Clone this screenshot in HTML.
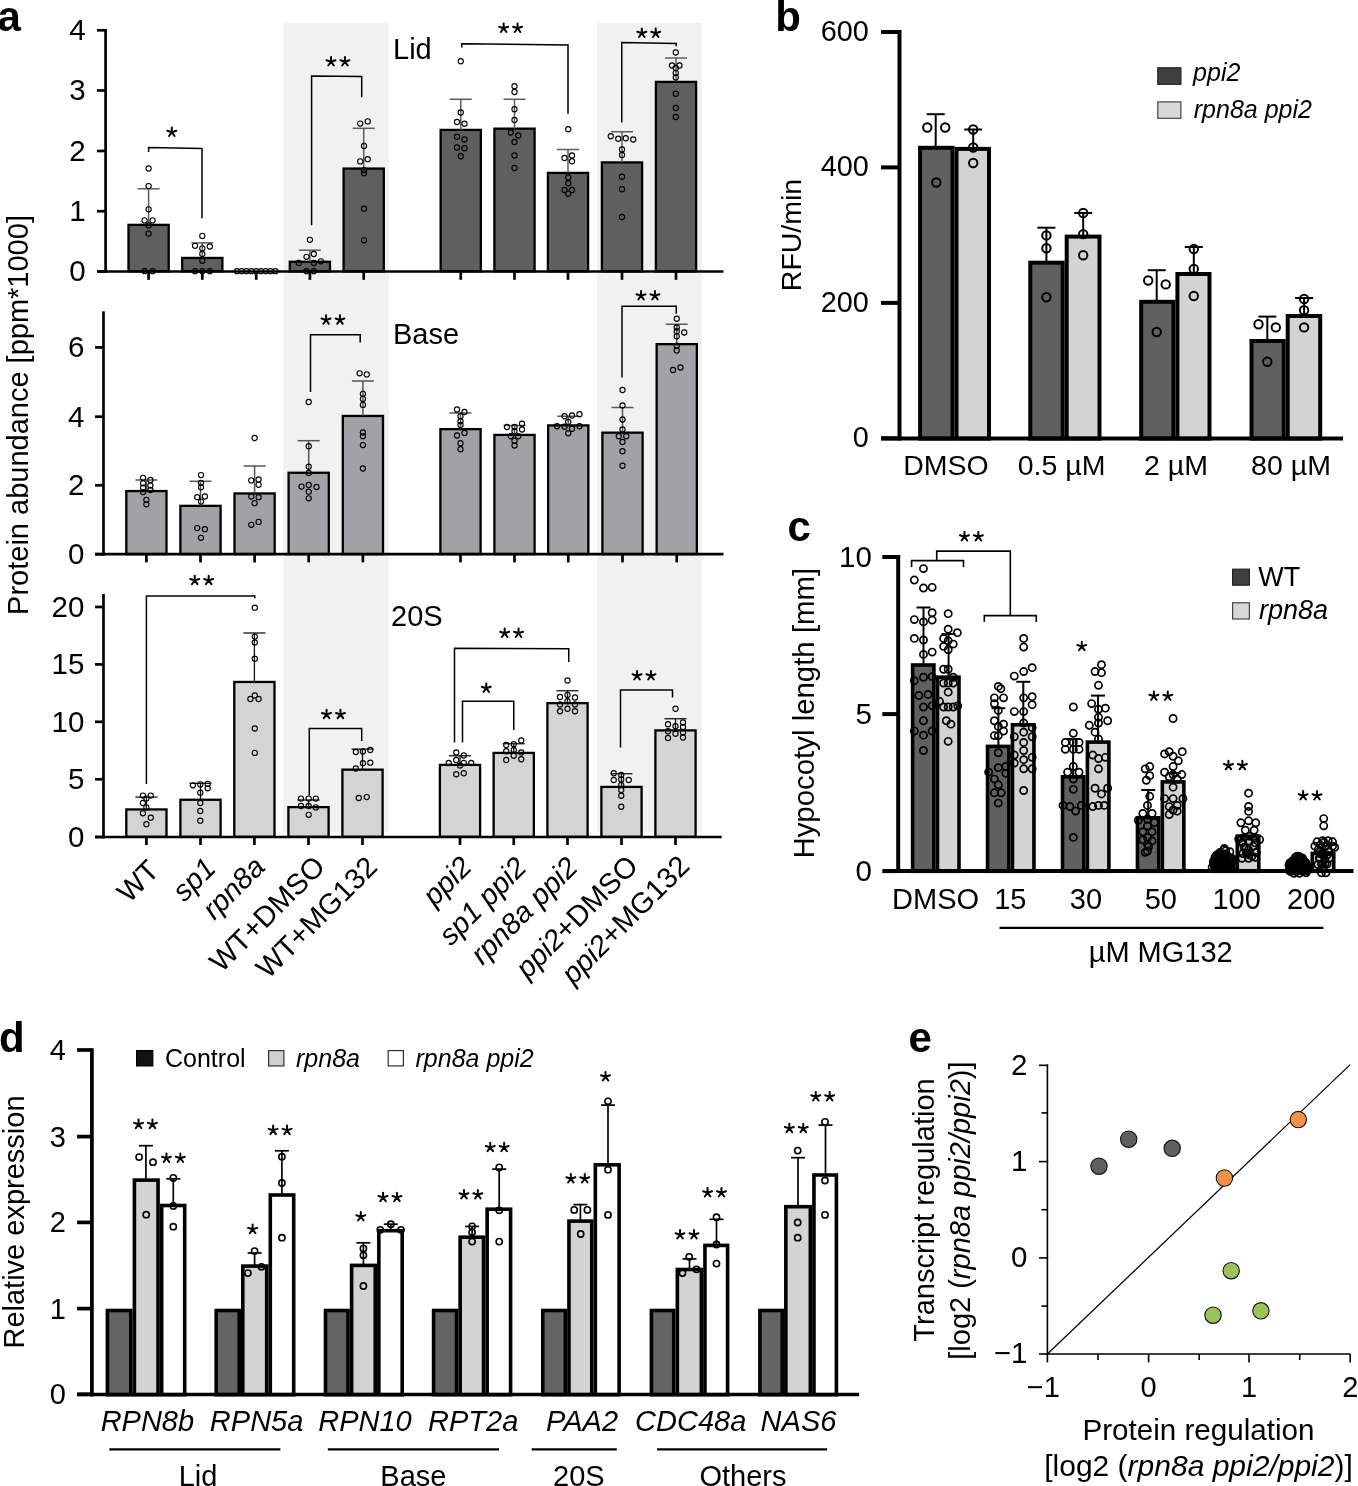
<!DOCTYPE html>
<html><head><meta charset="utf-8"><title>Figure</title>
<style>html,body{margin:0;padding:0;background:#fff;overflow:hidden}svg{display:block;will-change:transform}text{font-family:"Liberation Sans",sans-serif}</style>
</head><body>
<svg width="1358" height="1486" viewBox="0 0 1358 1486" font-family='"Liberation Sans", sans-serif'>
<rect x="0" y="0" width="1358" height="1486" fill="#fff"/>
<rect x="283.3" y="22.8" width="105.5" height="809" fill="#f1f1f1"/>
<rect x="597" y="22.8" width="105" height="809" fill="#f1f1f1"/>
<rect x="128.5" y="224.85" width="40.2" height="46.5" fill="#5f5f5f" stroke="#000" stroke-width="2.3"/>
<rect x="182.2" y="257.95" width="40.2" height="13.4" fill="#5f5f5f" stroke="#000" stroke-width="2.3"/>
<rect x="289.8" y="261.75" width="40.2" height="9.6" fill="#5f5f5f" stroke="#000" stroke-width="2.3"/>
<rect x="343.6" y="168.55" width="40.2" height="102.8" fill="#5f5f5f" stroke="#000" stroke-width="2.3"/>
<rect x="440.65" y="129.9" width="40.2" height="141.45" fill="#5f5f5f" stroke="#000" stroke-width="2.3"/>
<rect x="494.4" y="128.65" width="40.2" height="142.7" fill="#5f5f5f" stroke="#000" stroke-width="2.3"/>
<rect x="547.9" y="172.9" width="40.2" height="98.45" fill="#5f5f5f" stroke="#000" stroke-width="2.3"/>
<rect x="601.9" y="162.4" width="40.2" height="108.95" fill="#5f5f5f" stroke="#000" stroke-width="2.3"/>
<rect x="655.9" y="81.9" width="40.2" height="189.45" fill="#5f5f5f" stroke="#000" stroke-width="2.3"/>
<line x1="148.6" y1="224.7" x2="148.6" y2="188.8" stroke="#5c5c5c" stroke-width="1.5" stroke-linecap="butt"/>
<line x1="137.6" y1="188.8" x2="159.6" y2="188.8" stroke="#5c5c5c" stroke-width="1.5" stroke-linecap="butt"/>
<line x1="202.3" y1="257.8" x2="202.3" y2="242.9" stroke="#5c5c5c" stroke-width="1.5" stroke-linecap="butt"/>
<line x1="191.3" y1="242.9" x2="213.3" y2="242.9" stroke="#5c5c5c" stroke-width="1.5" stroke-linecap="butt"/>
<line x1="309.9" y1="261.6" x2="309.9" y2="250.2" stroke="#5c5c5c" stroke-width="1.5" stroke-linecap="butt"/>
<line x1="298.9" y1="250.2" x2="320.9" y2="250.2" stroke="#5c5c5c" stroke-width="1.5" stroke-linecap="butt"/>
<line x1="363.7" y1="168.4" x2="363.7" y2="128.3" stroke="#5c5c5c" stroke-width="1.5" stroke-linecap="butt"/>
<line x1="352.7" y1="128.3" x2="374.7" y2="128.3" stroke="#5c5c5c" stroke-width="1.5" stroke-linecap="butt"/>
<line x1="460.75" y1="129.75" x2="460.75" y2="99.25" stroke="#5c5c5c" stroke-width="1.5" stroke-linecap="butt"/>
<line x1="449.75" y1="99.25" x2="471.75" y2="99.25" stroke="#5c5c5c" stroke-width="1.5" stroke-linecap="butt"/>
<line x1="514.5" y1="128.5" x2="514.5" y2="99.25" stroke="#5c5c5c" stroke-width="1.5" stroke-linecap="butt"/>
<line x1="503.5" y1="99.25" x2="525.5" y2="99.25" stroke="#5c5c5c" stroke-width="1.5" stroke-linecap="butt"/>
<line x1="568" y1="172.75" x2="568" y2="149.5" stroke="#5c5c5c" stroke-width="1.5" stroke-linecap="butt"/>
<line x1="557" y1="149.5" x2="579" y2="149.5" stroke="#5c5c5c" stroke-width="1.5" stroke-linecap="butt"/>
<line x1="622" y1="162.25" x2="622" y2="131.75" stroke="#5c5c5c" stroke-width="1.5" stroke-linecap="butt"/>
<line x1="611" y1="131.75" x2="633" y2="131.75" stroke="#5c5c5c" stroke-width="1.5" stroke-linecap="butt"/>
<line x1="676" y1="81.75" x2="676" y2="58" stroke="#5c5c5c" stroke-width="1.5" stroke-linecap="butt"/>
<line x1="665" y1="58" x2="687" y2="58" stroke="#5c5c5c" stroke-width="1.5" stroke-linecap="butt"/>
<circle cx="148.6" cy="168.5" r="2.6" stroke="#000" stroke-width="1.1" fill="none"/>
<circle cx="148.6" cy="186.1" r="2.6" stroke="#000" stroke-width="1.1" fill="none"/>
<circle cx="148.6" cy="209.3" r="2.6" stroke="#000" stroke-width="1.1" fill="none"/>
<circle cx="144.6" cy="220.4" r="2.6" stroke="#000" stroke-width="1.1" fill="none"/>
<circle cx="152.6" cy="220.4" r="2.6" stroke="#000" stroke-width="1.1" fill="none"/>
<circle cx="148.6" cy="225.5" r="2.6" stroke="#000" stroke-width="1.1" fill="none"/>
<circle cx="148.6" cy="233.6" r="2.6" stroke="#000" stroke-width="1.1" fill="none"/>
<circle cx="144.6" cy="271.2" r="2.6" stroke="#000" stroke-width="1.1" fill="none"/>
<circle cx="152.6" cy="271.2" r="2.6" stroke="#000" stroke-width="1.1" fill="none"/>
<circle cx="202.3" cy="235.9" r="2.6" stroke="#000" stroke-width="1.1" fill="none"/>
<circle cx="195" cy="245.8" r="2.6" stroke="#000" stroke-width="1.1" fill="none"/>
<circle cx="209.8" cy="246.5" r="2.6" stroke="#000" stroke-width="1.1" fill="none"/>
<circle cx="202.3" cy="248.4" r="2.6" stroke="#000" stroke-width="1.1" fill="none"/>
<circle cx="202.3" cy="254" r="2.6" stroke="#000" stroke-width="1.1" fill="none"/>
<circle cx="202.3" cy="260.8" r="2.6" stroke="#000" stroke-width="1.1" fill="none"/>
<circle cx="195" cy="271.2" r="2.6" stroke="#000" stroke-width="1.1" fill="none"/>
<circle cx="202.3" cy="271.2" r="2.6" stroke="#000" stroke-width="1.1" fill="none"/>
<circle cx="209.8" cy="271.2" r="2.6" stroke="#000" stroke-width="1.1" fill="none"/>
<circle cx="237" cy="271.2" r="2.6" stroke="#000" stroke-width="1.1" fill="none"/>
<circle cx="241.8" cy="271.2" r="2.6" stroke="#000" stroke-width="1.1" fill="none"/>
<circle cx="246.6" cy="271.2" r="2.6" stroke="#000" stroke-width="1.1" fill="none"/>
<circle cx="251.4" cy="271.2" r="2.6" stroke="#000" stroke-width="1.1" fill="none"/>
<circle cx="256.2" cy="271.2" r="2.6" stroke="#000" stroke-width="1.1" fill="none"/>
<circle cx="261" cy="271.2" r="2.6" stroke="#000" stroke-width="1.1" fill="none"/>
<circle cx="265.8" cy="271.2" r="2.6" stroke="#000" stroke-width="1.1" fill="none"/>
<circle cx="270.6" cy="271.2" r="2.6" stroke="#000" stroke-width="1.1" fill="none"/>
<circle cx="275.4" cy="271.2" r="2.6" stroke="#000" stroke-width="1.1" fill="none"/>
<circle cx="309.9" cy="239.8" r="2.6" stroke="#000" stroke-width="1.1" fill="none"/>
<circle cx="306.5" cy="256.8" r="2.6" stroke="#000" stroke-width="1.1" fill="none"/>
<circle cx="313.8" cy="254" r="2.6" stroke="#000" stroke-width="1.1" fill="none"/>
<circle cx="298.8" cy="263" r="2.6" stroke="#000" stroke-width="1.1" fill="none"/>
<circle cx="313.8" cy="263" r="2.6" stroke="#000" stroke-width="1.1" fill="none"/>
<circle cx="320.9" cy="261.3" r="2.6" stroke="#000" stroke-width="1.1" fill="none"/>
<circle cx="306.5" cy="271.2" r="2.6" stroke="#000" stroke-width="1.1" fill="none"/>
<circle cx="313.8" cy="271.2" r="2.6" stroke="#000" stroke-width="1.1" fill="none"/>
<circle cx="360.2" cy="123.6" r="2.6" stroke="#000" stroke-width="1.1" fill="none"/>
<circle cx="367.7" cy="121.4" r="2.6" stroke="#000" stroke-width="1.1" fill="none"/>
<circle cx="364" cy="146" r="2.6" stroke="#000" stroke-width="1.1" fill="none"/>
<circle cx="360.2" cy="161.4" r="2.6" stroke="#000" stroke-width="1.1" fill="none"/>
<circle cx="367.7" cy="159.2" r="2.6" stroke="#000" stroke-width="1.1" fill="none"/>
<circle cx="364" cy="170.2" r="2.6" stroke="#000" stroke-width="1.1" fill="none"/>
<circle cx="364" cy="173.3" r="2.6" stroke="#000" stroke-width="1.1" fill="none"/>
<circle cx="364" cy="208.7" r="2.6" stroke="#000" stroke-width="1.1" fill="none"/>
<circle cx="364" cy="240.3" r="2.6" stroke="#000" stroke-width="1.1" fill="none"/>
<circle cx="460.75" cy="61.25" r="2.6" stroke="#000" stroke-width="1.1" fill="none"/>
<circle cx="460.75" cy="112.5" r="2.6" stroke="#000" stroke-width="1.1" fill="none"/>
<circle cx="457" cy="122" r="2.6" stroke="#000" stroke-width="1.1" fill="none"/>
<circle cx="464.5" cy="123.75" r="2.6" stroke="#000" stroke-width="1.1" fill="none"/>
<circle cx="457" cy="136.75" r="2.6" stroke="#000" stroke-width="1.1" fill="none"/>
<circle cx="464.5" cy="139.5" r="2.6" stroke="#000" stroke-width="1.1" fill="none"/>
<circle cx="457" cy="147.5" r="2.6" stroke="#000" stroke-width="1.1" fill="none"/>
<circle cx="464.5" cy="148.25" r="2.6" stroke="#000" stroke-width="1.1" fill="none"/>
<circle cx="460.75" cy="156.25" r="2.6" stroke="#000" stroke-width="1.1" fill="none"/>
<circle cx="514.5" cy="86.25" r="2.6" stroke="#000" stroke-width="1.1" fill="none"/>
<circle cx="514.5" cy="92" r="2.6" stroke="#000" stroke-width="1.1" fill="none"/>
<circle cx="514.5" cy="109.25" r="2.6" stroke="#000" stroke-width="1.1" fill="none"/>
<circle cx="514.5" cy="120" r="2.6" stroke="#000" stroke-width="1.1" fill="none"/>
<circle cx="510.75" cy="132.5" r="2.6" stroke="#000" stroke-width="1.1" fill="none"/>
<circle cx="518.25" cy="135.5" r="2.6" stroke="#000" stroke-width="1.1" fill="none"/>
<circle cx="514.5" cy="142" r="2.6" stroke="#000" stroke-width="1.1" fill="none"/>
<circle cx="514.5" cy="155.5" r="2.6" stroke="#000" stroke-width="1.1" fill="none"/>
<circle cx="514.5" cy="168" r="2.6" stroke="#000" stroke-width="1.1" fill="none"/>
<circle cx="568.25" cy="129.25" r="2.6" stroke="#000" stroke-width="1.1" fill="none"/>
<circle cx="564.5" cy="158" r="2.6" stroke="#000" stroke-width="1.1" fill="none"/>
<circle cx="572" cy="155.5" r="2.6" stroke="#000" stroke-width="1.1" fill="none"/>
<circle cx="572" cy="161.25" r="2.6" stroke="#000" stroke-width="1.1" fill="none"/>
<circle cx="568.25" cy="177.5" r="2.6" stroke="#000" stroke-width="1.1" fill="none"/>
<circle cx="568.25" cy="183.25" r="2.6" stroke="#000" stroke-width="1.1" fill="none"/>
<circle cx="564.5" cy="190" r="2.6" stroke="#000" stroke-width="1.1" fill="none"/>
<circle cx="572" cy="190" r="2.6" stroke="#000" stroke-width="1.1" fill="none"/>
<circle cx="568.25" cy="193.75" r="2.6" stroke="#000" stroke-width="1.1" fill="none"/>
<circle cx="610.75" cy="136.25" r="2.6" stroke="#000" stroke-width="1.1" fill="none"/>
<circle cx="618.25" cy="138.75" r="2.6" stroke="#000" stroke-width="1.1" fill="none"/>
<circle cx="625.75" cy="138.25" r="2.6" stroke="#000" stroke-width="1.1" fill="none"/>
<circle cx="633.25" cy="139.5" r="2.6" stroke="#000" stroke-width="1.1" fill="none"/>
<circle cx="622" cy="149.5" r="2.6" stroke="#000" stroke-width="1.1" fill="none"/>
<circle cx="622" cy="155" r="2.6" stroke="#000" stroke-width="1.1" fill="none"/>
<circle cx="622" cy="176.75" r="2.6" stroke="#000" stroke-width="1.1" fill="none"/>
<circle cx="622" cy="189.25" r="2.6" stroke="#000" stroke-width="1.1" fill="none"/>
<circle cx="622" cy="217" r="2.6" stroke="#000" stroke-width="1.1" fill="none"/>
<circle cx="675.75" cy="52.5" r="2.6" stroke="#000" stroke-width="1.1" fill="none"/>
<circle cx="672" cy="65.5" r="2.6" stroke="#000" stroke-width="1.1" fill="none"/>
<circle cx="679.5" cy="65.5" r="2.6" stroke="#000" stroke-width="1.1" fill="none"/>
<circle cx="675.75" cy="68" r="2.6" stroke="#000" stroke-width="1.1" fill="none"/>
<circle cx="675.75" cy="73" r="2.6" stroke="#000" stroke-width="1.1" fill="none"/>
<circle cx="675.75" cy="77.5" r="2.6" stroke="#000" stroke-width="1.1" fill="none"/>
<circle cx="675.75" cy="93.75" r="2.6" stroke="#000" stroke-width="1.1" fill="none"/>
<circle cx="675.75" cy="108" r="2.6" stroke="#000" stroke-width="1.1" fill="none"/>
<circle cx="675.75" cy="117" r="2.6" stroke="#000" stroke-width="1.1" fill="none"/>
<line x1="105.6" y1="29" x2="105.6" y2="272.85" stroke="#000" stroke-width="2.7" stroke-linecap="butt"/>
<line x1="97" y1="30.3" x2="105.6" y2="30.3" stroke="#000" stroke-width="2.7" stroke-linecap="butt"/>
<text x="85.6" y="39.8" font-size="29.5" text-anchor="end">4</text>
<line x1="97" y1="90.5" x2="105.6" y2="90.5" stroke="#000" stroke-width="2.7" stroke-linecap="butt"/>
<text x="85.6" y="100" font-size="29.5" text-anchor="end">3</text>
<line x1="97" y1="151" x2="105.6" y2="151" stroke="#000" stroke-width="2.7" stroke-linecap="butt"/>
<text x="85.6" y="160.5" font-size="29.5" text-anchor="end">2</text>
<line x1="97" y1="211.2" x2="105.6" y2="211.2" stroke="#000" stroke-width="2.7" stroke-linecap="butt"/>
<text x="85.6" y="220.7" font-size="29.5" text-anchor="end">1</text>
<line x1="97" y1="271.5" x2="105.6" y2="271.5" stroke="#000" stroke-width="2.7" stroke-linecap="butt"/>
<text x="85.6" y="281" font-size="29.5" text-anchor="end">0</text>
<line x1="97" y1="271.5" x2="723.5" y2="271.5" stroke="#000" stroke-width="2.7" stroke-linecap="butt"/>
<line x1="148.6" y1="271.5" x2="148.6" y2="279.8" stroke="#000" stroke-width="2.7" stroke-linecap="butt"/>
<line x1="202.3" y1="271.5" x2="202.3" y2="279.8" stroke="#000" stroke-width="2.7" stroke-linecap="butt"/>
<line x1="256.2" y1="271.5" x2="256.2" y2="279.8" stroke="#000" stroke-width="2.7" stroke-linecap="butt"/>
<line x1="309.9" y1="271.5" x2="309.9" y2="279.8" stroke="#000" stroke-width="2.7" stroke-linecap="butt"/>
<line x1="363.7" y1="271.5" x2="363.7" y2="279.8" stroke="#000" stroke-width="2.7" stroke-linecap="butt"/>
<line x1="460.75" y1="271.5" x2="460.75" y2="279.8" stroke="#000" stroke-width="2.7" stroke-linecap="butt"/>
<line x1="514.5" y1="271.5" x2="514.5" y2="279.8" stroke="#000" stroke-width="2.7" stroke-linecap="butt"/>
<line x1="568" y1="271.5" x2="568" y2="279.8" stroke="#000" stroke-width="2.7" stroke-linecap="butt"/>
<line x1="622" y1="271.5" x2="622" y2="279.8" stroke="#000" stroke-width="2.7" stroke-linecap="butt"/>
<line x1="676" y1="271.5" x2="676" y2="279.8" stroke="#000" stroke-width="2.7" stroke-linecap="butt"/>
<rect x="126.3" y="491.05" width="40.2" height="63" fill="#a2a1a5" stroke="#000" stroke-width="2.3"/>
<rect x="180.4" y="505.85" width="40.2" height="48.2" fill="#a2a1a5" stroke="#000" stroke-width="2.3"/>
<rect x="234.5" y="493.45" width="40.2" height="60.6" fill="#a2a1a5" stroke="#000" stroke-width="2.3"/>
<rect x="288.6" y="472.75" width="40.2" height="81.3" fill="#a2a1a5" stroke="#000" stroke-width="2.3"/>
<rect x="342.8" y="415.95" width="40.2" height="138.1" fill="#a2a1a5" stroke="#000" stroke-width="2.3"/>
<rect x="440.4" y="429.15" width="40.2" height="124.9" fill="#a2a1a5" stroke="#000" stroke-width="2.3"/>
<rect x="494.4" y="434.9" width="40.2" height="119.15" fill="#a2a1a5" stroke="#000" stroke-width="2.3"/>
<rect x="548.15" y="425.4" width="40.2" height="128.65" fill="#a2a1a5" stroke="#000" stroke-width="2.3"/>
<rect x="602.4" y="432.65" width="40.2" height="121.4" fill="#a2a1a5" stroke="#000" stroke-width="2.3"/>
<rect x="656.65" y="344.15" width="40.2" height="209.9" fill="#a2a1a5" stroke="#000" stroke-width="2.3"/>
<line x1="146.4" y1="490.9" x2="146.4" y2="480" stroke="#555555" stroke-width="1.5" stroke-linecap="butt"/>
<line x1="135.4" y1="480" x2="157.4" y2="480" stroke="#555555" stroke-width="1.5" stroke-linecap="butt"/>
<line x1="200.5" y1="505.7" x2="200.5" y2="481.3" stroke="#555555" stroke-width="1.5" stroke-linecap="butt"/>
<line x1="189.5" y1="481.3" x2="211.5" y2="481.3" stroke="#555555" stroke-width="1.5" stroke-linecap="butt"/>
<line x1="254.6" y1="493.3" x2="254.6" y2="466" stroke="#555555" stroke-width="1.5" stroke-linecap="butt"/>
<line x1="243.6" y1="466" x2="265.6" y2="466" stroke="#555555" stroke-width="1.5" stroke-linecap="butt"/>
<line x1="308.7" y1="472.6" x2="308.7" y2="440.7" stroke="#555555" stroke-width="1.5" stroke-linecap="butt"/>
<line x1="297.7" y1="440.7" x2="319.7" y2="440.7" stroke="#555555" stroke-width="1.5" stroke-linecap="butt"/>
<line x1="362.9" y1="415.8" x2="362.9" y2="381" stroke="#555555" stroke-width="1.5" stroke-linecap="butt"/>
<line x1="351.9" y1="381" x2="373.9" y2="381" stroke="#555555" stroke-width="1.5" stroke-linecap="butt"/>
<line x1="460.5" y1="429" x2="460.5" y2="413" stroke="#555555" stroke-width="1.5" stroke-linecap="butt"/>
<line x1="449.5" y1="413" x2="471.5" y2="413" stroke="#555555" stroke-width="1.5" stroke-linecap="butt"/>
<line x1="514.5" y1="434.75" x2="514.5" y2="425.5" stroke="#555555" stroke-width="1.5" stroke-linecap="butt"/>
<line x1="503.5" y1="425.5" x2="525.5" y2="425.5" stroke="#555555" stroke-width="1.5" stroke-linecap="butt"/>
<line x1="568.25" y1="425.25" x2="568.25" y2="416.25" stroke="#555555" stroke-width="1.5" stroke-linecap="butt"/>
<line x1="557.25" y1="416.25" x2="579.25" y2="416.25" stroke="#555555" stroke-width="1.5" stroke-linecap="butt"/>
<line x1="622.5" y1="432.5" x2="622.5" y2="407.5" stroke="#555555" stroke-width="1.5" stroke-linecap="butt"/>
<line x1="611.5" y1="407.5" x2="633.5" y2="407.5" stroke="#555555" stroke-width="1.5" stroke-linecap="butt"/>
<line x1="676.75" y1="344" x2="676.75" y2="324.25" stroke="#555555" stroke-width="1.5" stroke-linecap="butt"/>
<line x1="665.75" y1="324.25" x2="687.75" y2="324.25" stroke="#555555" stroke-width="1.5" stroke-linecap="butt"/>
<circle cx="143.1" cy="477.8" r="2.6" stroke="#000" stroke-width="1.1" fill="none"/>
<circle cx="150.4" cy="480" r="2.6" stroke="#000" stroke-width="1.1" fill="none"/>
<circle cx="143.1" cy="483.3" r="2.6" stroke="#000" stroke-width="1.1" fill="none"/>
<circle cx="150.4" cy="485.5" r="2.6" stroke="#000" stroke-width="1.1" fill="none"/>
<circle cx="143.1" cy="487.7" r="2.6" stroke="#000" stroke-width="1.1" fill="none"/>
<circle cx="150.4" cy="490" r="2.6" stroke="#000" stroke-width="1.1" fill="none"/>
<circle cx="143.1" cy="492.1" r="2.6" stroke="#000" stroke-width="1.1" fill="none"/>
<circle cx="146.4" cy="499.9" r="2.6" stroke="#000" stroke-width="1.1" fill="none"/>
<circle cx="146.4" cy="504.3" r="2.6" stroke="#000" stroke-width="1.1" fill="none"/>
<circle cx="201" cy="475.1" r="2.6" stroke="#000" stroke-width="1.1" fill="none"/>
<circle cx="201" cy="482.8" r="2.6" stroke="#000" stroke-width="1.1" fill="none"/>
<circle cx="201" cy="487.3" r="2.6" stroke="#000" stroke-width="1.1" fill="none"/>
<circle cx="197.2" cy="497.2" r="2.6" stroke="#000" stroke-width="1.1" fill="none"/>
<circle cx="204.9" cy="496.5" r="2.6" stroke="#000" stroke-width="1.1" fill="none"/>
<circle cx="201" cy="501.6" r="2.6" stroke="#000" stroke-width="1.1" fill="none"/>
<circle cx="197.2" cy="528.1" r="2.6" stroke="#000" stroke-width="1.1" fill="none"/>
<circle cx="204.9" cy="529.2" r="2.6" stroke="#000" stroke-width="1.1" fill="none"/>
<circle cx="201" cy="537.8" r="2.6" stroke="#000" stroke-width="1.1" fill="none"/>
<circle cx="254.6" cy="438" r="2.6" stroke="#000" stroke-width="1.1" fill="none"/>
<circle cx="251.3" cy="480.4" r="2.6" stroke="#000" stroke-width="1.1" fill="none"/>
<circle cx="258.6" cy="479.5" r="2.6" stroke="#000" stroke-width="1.1" fill="none"/>
<circle cx="258.6" cy="484.8" r="2.6" stroke="#000" stroke-width="1.1" fill="none"/>
<circle cx="251.3" cy="496.5" r="2.6" stroke="#000" stroke-width="1.1" fill="none"/>
<circle cx="258.6" cy="497.2" r="2.6" stroke="#000" stroke-width="1.1" fill="none"/>
<circle cx="254.6" cy="503.2" r="2.6" stroke="#000" stroke-width="1.1" fill="none"/>
<circle cx="251.3" cy="524.8" r="2.6" stroke="#000" stroke-width="1.1" fill="none"/>
<circle cx="258.6" cy="521.9" r="2.6" stroke="#000" stroke-width="1.1" fill="none"/>
<circle cx="308.7" cy="402" r="2.6" stroke="#000" stroke-width="1.1" fill="none"/>
<circle cx="308.7" cy="446.2" r="2.6" stroke="#000" stroke-width="1.1" fill="none"/>
<circle cx="308.7" cy="466.7" r="2.6" stroke="#000" stroke-width="1.1" fill="none"/>
<circle cx="308.7" cy="472.9" r="2.6" stroke="#000" stroke-width="1.1" fill="none"/>
<circle cx="301.5" cy="486.6" r="2.6" stroke="#000" stroke-width="1.1" fill="none"/>
<circle cx="308.7" cy="485" r="2.6" stroke="#000" stroke-width="1.1" fill="none"/>
<circle cx="316.5" cy="487" r="2.6" stroke="#000" stroke-width="1.1" fill="none"/>
<circle cx="308.7" cy="491.7" r="2.6" stroke="#000" stroke-width="1.1" fill="none"/>
<circle cx="308.7" cy="498.3" r="2.6" stroke="#000" stroke-width="1.1" fill="none"/>
<circle cx="359.6" cy="373.3" r="2.6" stroke="#000" stroke-width="1.1" fill="none"/>
<circle cx="366.8" cy="374.4" r="2.6" stroke="#000" stroke-width="1.1" fill="none"/>
<circle cx="362.9" cy="393.8" r="2.6" stroke="#000" stroke-width="1.1" fill="none"/>
<circle cx="362.9" cy="398.9" r="2.6" stroke="#000" stroke-width="1.1" fill="none"/>
<circle cx="362.9" cy="404.9" r="2.6" stroke="#000" stroke-width="1.1" fill="none"/>
<circle cx="362.9" cy="432.5" r="2.6" stroke="#000" stroke-width="1.1" fill="none"/>
<circle cx="362.9" cy="436.2" r="2.6" stroke="#000" stroke-width="1.1" fill="none"/>
<circle cx="362.9" cy="445.1" r="2.6" stroke="#000" stroke-width="1.1" fill="none"/>
<circle cx="362.9" cy="468.5" r="2.6" stroke="#000" stroke-width="1.1" fill="none"/>
<circle cx="457" cy="409.5" r="2.6" stroke="#000" stroke-width="1.1" fill="none"/>
<circle cx="464.5" cy="412" r="2.6" stroke="#000" stroke-width="1.1" fill="none"/>
<circle cx="460.5" cy="416.25" r="2.6" stroke="#000" stroke-width="1.1" fill="none"/>
<circle cx="460.5" cy="421.25" r="2.6" stroke="#000" stroke-width="1.1" fill="none"/>
<circle cx="460.5" cy="425" r="2.6" stroke="#000" stroke-width="1.1" fill="none"/>
<circle cx="457" cy="435.5" r="2.6" stroke="#000" stroke-width="1.1" fill="none"/>
<circle cx="464.5" cy="433" r="2.6" stroke="#000" stroke-width="1.1" fill="none"/>
<circle cx="460.5" cy="443.25" r="2.6" stroke="#000" stroke-width="1.1" fill="none"/>
<circle cx="460.5" cy="449.25" r="2.6" stroke="#000" stroke-width="1.1" fill="none"/>
<circle cx="507" cy="427" r="2.6" stroke="#000" stroke-width="1.1" fill="none"/>
<circle cx="514.5" cy="427" r="2.6" stroke="#000" stroke-width="1.1" fill="none"/>
<circle cx="522" cy="423.75" r="2.6" stroke="#000" stroke-width="1.1" fill="none"/>
<circle cx="522" cy="429.5" r="2.6" stroke="#000" stroke-width="1.1" fill="none"/>
<circle cx="514.5" cy="431.25" r="2.6" stroke="#000" stroke-width="1.1" fill="none"/>
<circle cx="510.75" cy="436.25" r="2.6" stroke="#000" stroke-width="1.1" fill="none"/>
<circle cx="518.25" cy="436.25" r="2.6" stroke="#000" stroke-width="1.1" fill="none"/>
<circle cx="514.5" cy="440.75" r="2.6" stroke="#000" stroke-width="1.1" fill="none"/>
<circle cx="514.5" cy="445.5" r="2.6" stroke="#000" stroke-width="1.1" fill="none"/>
<circle cx="564.5" cy="416.25" r="2.6" stroke="#000" stroke-width="1.1" fill="none"/>
<circle cx="572" cy="415.5" r="2.6" stroke="#000" stroke-width="1.1" fill="none"/>
<circle cx="579.5" cy="414.25" r="2.6" stroke="#000" stroke-width="1.1" fill="none"/>
<circle cx="568.25" cy="422" r="2.6" stroke="#000" stroke-width="1.1" fill="none"/>
<circle cx="557" cy="426.25" r="2.6" stroke="#000" stroke-width="1.1" fill="none"/>
<circle cx="564.5" cy="426.75" r="2.6" stroke="#000" stroke-width="1.1" fill="none"/>
<circle cx="572" cy="428.75" r="2.6" stroke="#000" stroke-width="1.1" fill="none"/>
<circle cx="579.5" cy="426.25" r="2.6" stroke="#000" stroke-width="1.1" fill="none"/>
<circle cx="568.25" cy="433.25" r="2.6" stroke="#000" stroke-width="1.1" fill="none"/>
<circle cx="622.5" cy="390" r="2.6" stroke="#000" stroke-width="1.1" fill="none"/>
<circle cx="622.5" cy="405.5" r="2.6" stroke="#000" stroke-width="1.1" fill="none"/>
<circle cx="622.5" cy="419.5" r="2.6" stroke="#000" stroke-width="1.1" fill="none"/>
<circle cx="622.5" cy="429.5" r="2.6" stroke="#000" stroke-width="1.1" fill="none"/>
<circle cx="618.75" cy="436.25" r="2.6" stroke="#000" stroke-width="1.1" fill="none"/>
<circle cx="626.25" cy="436.25" r="2.6" stroke="#000" stroke-width="1.1" fill="none"/>
<circle cx="622.5" cy="442" r="2.6" stroke="#000" stroke-width="1.1" fill="none"/>
<circle cx="622.5" cy="451.25" r="2.6" stroke="#000" stroke-width="1.1" fill="none"/>
<circle cx="622.5" cy="465.75" r="2.6" stroke="#000" stroke-width="1.1" fill="none"/>
<circle cx="676.75" cy="318.75" r="2.6" stroke="#000" stroke-width="1.1" fill="none"/>
<circle cx="676.75" cy="327.5" r="2.6" stroke="#000" stroke-width="1.1" fill="none"/>
<circle cx="684.25" cy="332.5" r="2.6" stroke="#000" stroke-width="1.1" fill="none"/>
<circle cx="676.75" cy="331.25" r="2.6" stroke="#000" stroke-width="1.1" fill="none"/>
<circle cx="676.75" cy="336.25" r="2.6" stroke="#000" stroke-width="1.1" fill="none"/>
<circle cx="676.75" cy="345.75" r="2.6" stroke="#000" stroke-width="1.1" fill="none"/>
<circle cx="676.75" cy="350.5" r="2.6" stroke="#000" stroke-width="1.1" fill="none"/>
<circle cx="673" cy="370" r="2.6" stroke="#000" stroke-width="1.1" fill="none"/>
<circle cx="680.5" cy="367.5" r="2.6" stroke="#000" stroke-width="1.1" fill="none"/>
<line x1="103.5" y1="311.3" x2="103.5" y2="555.55" stroke="#000" stroke-width="2.7" stroke-linecap="butt"/>
<line x1="95" y1="347.4" x2="103.5" y2="347.4" stroke="#000" stroke-width="2.7" stroke-linecap="butt"/>
<text x="84.4" y="357.4" font-size="29.5" text-anchor="end">6</text>
<line x1="95" y1="416.7" x2="103.5" y2="416.7" stroke="#000" stroke-width="2.7" stroke-linecap="butt"/>
<text x="84.4" y="426.7" font-size="29.5" text-anchor="end">4</text>
<line x1="95" y1="485.3" x2="103.5" y2="485.3" stroke="#000" stroke-width="2.7" stroke-linecap="butt"/>
<text x="84.4" y="495.3" font-size="29.5" text-anchor="end">2</text>
<line x1="95" y1="554.2" x2="103.5" y2="554.2" stroke="#000" stroke-width="2.7" stroke-linecap="butt"/>
<text x="84.4" y="564.2" font-size="29.5" text-anchor="end">0</text>
<line x1="95" y1="554.2" x2="723.5" y2="554.2" stroke="#000" stroke-width="2.7" stroke-linecap="butt"/>
<line x1="146.4" y1="554.2" x2="146.4" y2="562.4" stroke="#000" stroke-width="2.7" stroke-linecap="butt"/>
<line x1="200.5" y1="554.2" x2="200.5" y2="562.4" stroke="#000" stroke-width="2.7" stroke-linecap="butt"/>
<line x1="254.6" y1="554.2" x2="254.6" y2="562.4" stroke="#000" stroke-width="2.7" stroke-linecap="butt"/>
<line x1="308.7" y1="554.2" x2="308.7" y2="562.4" stroke="#000" stroke-width="2.7" stroke-linecap="butt"/>
<line x1="362.9" y1="554.2" x2="362.9" y2="562.4" stroke="#000" stroke-width="2.7" stroke-linecap="butt"/>
<line x1="460.5" y1="554.2" x2="460.5" y2="562.4" stroke="#000" stroke-width="2.7" stroke-linecap="butt"/>
<line x1="514.5" y1="554.2" x2="514.5" y2="562.4" stroke="#000" stroke-width="2.7" stroke-linecap="butt"/>
<line x1="568.25" y1="554.2" x2="568.25" y2="562.4" stroke="#000" stroke-width="2.7" stroke-linecap="butt"/>
<line x1="622.5" y1="554.2" x2="622.5" y2="562.4" stroke="#000" stroke-width="2.7" stroke-linecap="butt"/>
<line x1="676.75" y1="554.2" x2="676.75" y2="562.4" stroke="#000" stroke-width="2.7" stroke-linecap="butt"/>
<rect x="126.3" y="809.45" width="40.2" height="27.4" fill="#d4d4d4" stroke="#000" stroke-width="2.3"/>
<rect x="180.4" y="799.75" width="40.2" height="37.1" fill="#d4d4d4" stroke="#000" stroke-width="2.3"/>
<rect x="234.3" y="681.95" width="40.2" height="154.9" fill="#d4d4d4" stroke="#000" stroke-width="2.3"/>
<rect x="288.4" y="807.15" width="40.2" height="29.7" fill="#d4d4d4" stroke="#000" stroke-width="2.3"/>
<rect x="342.4" y="769.65" width="40.2" height="67.2" fill="#d4d4d4" stroke="#000" stroke-width="2.3"/>
<rect x="439.9" y="764.9" width="40.2" height="71.95" fill="#d4d4d4" stroke="#000" stroke-width="2.3"/>
<rect x="493.65" y="752.9" width="40.2" height="83.95" fill="#d4d4d4" stroke="#000" stroke-width="2.3"/>
<rect x="547.4" y="703.15" width="40.2" height="133.7" fill="#d4d4d4" stroke="#000" stroke-width="2.3"/>
<rect x="601.4" y="786.9" width="40.2" height="49.95" fill="#d4d4d4" stroke="#000" stroke-width="2.3"/>
<rect x="655.4" y="730.4" width="40.2" height="106.45" fill="#d4d4d4" stroke="#000" stroke-width="2.3"/>
<line x1="146.4" y1="809.3" x2="146.4" y2="797.1" stroke="#111" stroke-width="1.3" stroke-linecap="butt"/>
<line x1="135.4" y1="797.1" x2="157.4" y2="797.1" stroke="#111" stroke-width="1.3" stroke-linecap="butt"/>
<line x1="200.5" y1="799.6" x2="200.5" y2="783.3" stroke="#111" stroke-width="1.3" stroke-linecap="butt"/>
<line x1="189.5" y1="783.3" x2="211.5" y2="783.3" stroke="#111" stroke-width="1.3" stroke-linecap="butt"/>
<line x1="254.4" y1="681.8" x2="254.4" y2="633" stroke="#111" stroke-width="1.3" stroke-linecap="butt"/>
<line x1="243.4" y1="633" x2="265.4" y2="633" stroke="#111" stroke-width="1.3" stroke-linecap="butt"/>
<line x1="308.5" y1="807" x2="308.5" y2="800" stroke="#111" stroke-width="1.3" stroke-linecap="butt"/>
<line x1="297.5" y1="800" x2="319.5" y2="800" stroke="#111" stroke-width="1.3" stroke-linecap="butt"/>
<line x1="362.5" y1="769.5" x2="362.5" y2="749.1" stroke="#111" stroke-width="1.3" stroke-linecap="butt"/>
<line x1="351.5" y1="749.1" x2="373.5" y2="749.1" stroke="#111" stroke-width="1.3" stroke-linecap="butt"/>
<line x1="460" y1="764.75" x2="460" y2="755.75" stroke="#111" stroke-width="1.3" stroke-linecap="butt"/>
<line x1="449" y1="755.75" x2="471" y2="755.75" stroke="#111" stroke-width="1.3" stroke-linecap="butt"/>
<line x1="513.75" y1="752.75" x2="513.75" y2="743.75" stroke="#111" stroke-width="1.3" stroke-linecap="butt"/>
<line x1="502.75" y1="743.75" x2="524.75" y2="743.75" stroke="#111" stroke-width="1.3" stroke-linecap="butt"/>
<line x1="567.5" y1="703" x2="567.5" y2="690.75" stroke="#111" stroke-width="1.3" stroke-linecap="butt"/>
<line x1="556.5" y1="690.75" x2="578.5" y2="690.75" stroke="#111" stroke-width="1.3" stroke-linecap="butt"/>
<line x1="621.5" y1="786.75" x2="621.5" y2="773.75" stroke="#111" stroke-width="1.3" stroke-linecap="butt"/>
<line x1="610.5" y1="773.75" x2="632.5" y2="773.75" stroke="#111" stroke-width="1.3" stroke-linecap="butt"/>
<line x1="675.5" y1="730.25" x2="675.5" y2="718.75" stroke="#111" stroke-width="1.3" stroke-linecap="butt"/>
<line x1="664.5" y1="718.75" x2="686.5" y2="718.75" stroke="#111" stroke-width="1.3" stroke-linecap="butt"/>
<circle cx="142.9" cy="795.6" r="2.6" stroke="#000" stroke-width="1.1" fill="none"/>
<circle cx="150.8" cy="795.6" r="2.6" stroke="#000" stroke-width="1.1" fill="none"/>
<circle cx="146.4" cy="798.6" r="2.6" stroke="#000" stroke-width="1.1" fill="none"/>
<circle cx="142.9" cy="803" r="2.6" stroke="#000" stroke-width="1.1" fill="none"/>
<circle cx="146.4" cy="807.4" r="2.6" stroke="#000" stroke-width="1.1" fill="none"/>
<circle cx="142.9" cy="813.3" r="2.6" stroke="#000" stroke-width="1.1" fill="none"/>
<circle cx="150.8" cy="817.7" r="2.6" stroke="#000" stroke-width="1.1" fill="none"/>
<circle cx="146.4" cy="824.2" r="2.6" stroke="#000" stroke-width="1.1" fill="none"/>
<circle cx="192.9" cy="785.3" r="2.6" stroke="#000" stroke-width="1.1" fill="none"/>
<circle cx="200.3" cy="784.4" r="2.6" stroke="#000" stroke-width="1.1" fill="none"/>
<circle cx="207.7" cy="783.9" r="2.6" stroke="#000" stroke-width="1.1" fill="none"/>
<circle cx="207.7" cy="788.3" r="2.6" stroke="#000" stroke-width="1.1" fill="none"/>
<circle cx="200.3" cy="792.7" r="2.6" stroke="#000" stroke-width="1.1" fill="none"/>
<circle cx="200.3" cy="803" r="2.6" stroke="#000" stroke-width="1.1" fill="none"/>
<circle cx="200.3" cy="811" r="2.6" stroke="#000" stroke-width="1.1" fill="none"/>
<circle cx="200.3" cy="820.7" r="2.6" stroke="#000" stroke-width="1.1" fill="none"/>
<circle cx="254.8" cy="607.7" r="2.6" stroke="#000" stroke-width="1.1" fill="none"/>
<circle cx="254.8" cy="636.6" r="2.6" stroke="#000" stroke-width="1.1" fill="none"/>
<circle cx="254.8" cy="642.5" r="2.6" stroke="#000" stroke-width="1.1" fill="none"/>
<circle cx="254.8" cy="658.7" r="2.6" stroke="#000" stroke-width="1.1" fill="none"/>
<circle cx="250.4" cy="699" r="2.6" stroke="#000" stroke-width="1.1" fill="none"/>
<circle cx="258.6" cy="699" r="2.6" stroke="#000" stroke-width="1.1" fill="none"/>
<circle cx="254.8" cy="695.5" r="2.6" stroke="#000" stroke-width="1.1" fill="none"/>
<circle cx="254.8" cy="728.5" r="2.6" stroke="#000" stroke-width="1.1" fill="none"/>
<circle cx="254.8" cy="752.9" r="2.6" stroke="#000" stroke-width="1.1" fill="none"/>
<circle cx="301" cy="798.6" r="2.6" stroke="#000" stroke-width="1.1" fill="none"/>
<circle cx="308.7" cy="798.6" r="2.6" stroke="#000" stroke-width="1.1" fill="none"/>
<circle cx="315.8" cy="798.6" r="2.6" stroke="#000" stroke-width="1.1" fill="none"/>
<circle cx="301" cy="806" r="2.6" stroke="#000" stroke-width="1.1" fill="none"/>
<circle cx="308.7" cy="806" r="2.6" stroke="#000" stroke-width="1.1" fill="none"/>
<circle cx="315.8" cy="807.4" r="2.6" stroke="#000" stroke-width="1.1" fill="none"/>
<circle cx="308.7" cy="814.8" r="2.6" stroke="#000" stroke-width="1.1" fill="none"/>
<circle cx="355.8" cy="752" r="2.6" stroke="#000" stroke-width="1.1" fill="none"/>
<circle cx="362.9" cy="751.5" r="2.6" stroke="#000" stroke-width="1.1" fill="none"/>
<circle cx="370.3" cy="750" r="2.6" stroke="#000" stroke-width="1.1" fill="none"/>
<circle cx="355.8" cy="768.5" r="2.6" stroke="#000" stroke-width="1.1" fill="none"/>
<circle cx="362.9" cy="763.2" r="2.6" stroke="#000" stroke-width="1.1" fill="none"/>
<circle cx="370.3" cy="762.7" r="2.6" stroke="#000" stroke-width="1.1" fill="none"/>
<circle cx="358.8" cy="798" r="2.6" stroke="#000" stroke-width="1.1" fill="none"/>
<circle cx="366.7" cy="797.1" r="2.6" stroke="#000" stroke-width="1.1" fill="none"/>
<circle cx="456.25" cy="752.5" r="2.6" stroke="#000" stroke-width="1.1" fill="none"/>
<circle cx="463.75" cy="755.5" r="2.6" stroke="#000" stroke-width="1.1" fill="none"/>
<circle cx="448.75" cy="763" r="2.6" stroke="#000" stroke-width="1.1" fill="none"/>
<circle cx="456.25" cy="760" r="2.6" stroke="#000" stroke-width="1.1" fill="none"/>
<circle cx="463.75" cy="763" r="2.6" stroke="#000" stroke-width="1.1" fill="none"/>
<circle cx="471.25" cy="763" r="2.6" stroke="#000" stroke-width="1.1" fill="none"/>
<circle cx="460" cy="765.5" r="2.6" stroke="#000" stroke-width="1.1" fill="none"/>
<circle cx="456.25" cy="774.25" r="2.6" stroke="#000" stroke-width="1.1" fill="none"/>
<circle cx="463.75" cy="773.25" r="2.6" stroke="#000" stroke-width="1.1" fill="none"/>
<circle cx="506.25" cy="745" r="2.6" stroke="#000" stroke-width="1.1" fill="none"/>
<circle cx="513.75" cy="744.25" r="2.6" stroke="#000" stroke-width="1.1" fill="none"/>
<circle cx="521.25" cy="740.5" r="2.6" stroke="#000" stroke-width="1.1" fill="none"/>
<circle cx="506.25" cy="751.25" r="2.6" stroke="#000" stroke-width="1.1" fill="none"/>
<circle cx="513.75" cy="750" r="2.6" stroke="#000" stroke-width="1.1" fill="none"/>
<circle cx="521.25" cy="752.5" r="2.6" stroke="#000" stroke-width="1.1" fill="none"/>
<circle cx="506.25" cy="760" r="2.6" stroke="#000" stroke-width="1.1" fill="none"/>
<circle cx="513.75" cy="755.75" r="2.6" stroke="#000" stroke-width="1.1" fill="none"/>
<circle cx="521.25" cy="759.25" r="2.6" stroke="#000" stroke-width="1.1" fill="none"/>
<circle cx="567.5" cy="680.5" r="2.6" stroke="#000" stroke-width="1.1" fill="none"/>
<circle cx="567.5" cy="695" r="2.6" stroke="#000" stroke-width="1.1" fill="none"/>
<circle cx="560" cy="697" r="2.6" stroke="#000" stroke-width="1.1" fill="none"/>
<circle cx="575" cy="697.5" r="2.6" stroke="#000" stroke-width="1.1" fill="none"/>
<circle cx="560" cy="704.5" r="2.6" stroke="#000" stroke-width="1.1" fill="none"/>
<circle cx="567.5" cy="701.25" r="2.6" stroke="#000" stroke-width="1.1" fill="none"/>
<circle cx="575" cy="704.5" r="2.6" stroke="#000" stroke-width="1.1" fill="none"/>
<circle cx="560" cy="711.25" r="2.6" stroke="#000" stroke-width="1.1" fill="none"/>
<circle cx="567.5" cy="708.75" r="2.6" stroke="#000" stroke-width="1.1" fill="none"/>
<circle cx="575" cy="711.25" r="2.6" stroke="#000" stroke-width="1.1" fill="none"/>
<circle cx="613.75" cy="773.25" r="2.6" stroke="#000" stroke-width="1.1" fill="none"/>
<circle cx="621.25" cy="775" r="2.6" stroke="#000" stroke-width="1.1" fill="none"/>
<circle cx="613.75" cy="780" r="2.6" stroke="#000" stroke-width="1.1" fill="none"/>
<circle cx="621.25" cy="779.5" r="2.6" stroke="#000" stroke-width="1.1" fill="none"/>
<circle cx="628.75" cy="780" r="2.6" stroke="#000" stroke-width="1.1" fill="none"/>
<circle cx="621.25" cy="785" r="2.6" stroke="#000" stroke-width="1.1" fill="none"/>
<circle cx="621.25" cy="790" r="2.6" stroke="#000" stroke-width="1.1" fill="none"/>
<circle cx="621.25" cy="795.75" r="2.6" stroke="#000" stroke-width="1.1" fill="none"/>
<circle cx="621.25" cy="806.75" r="2.6" stroke="#000" stroke-width="1.1" fill="none"/>
<circle cx="675.5" cy="708.75" r="2.6" stroke="#000" stroke-width="1.1" fill="none"/>
<circle cx="668" cy="724.25" r="2.6" stroke="#000" stroke-width="1.1" fill="none"/>
<circle cx="675.5" cy="726.25" r="2.6" stroke="#000" stroke-width="1.1" fill="none"/>
<circle cx="683" cy="722.5" r="2.6" stroke="#000" stroke-width="1.1" fill="none"/>
<circle cx="683" cy="727" r="2.6" stroke="#000" stroke-width="1.1" fill="none"/>
<circle cx="668" cy="731.25" r="2.6" stroke="#000" stroke-width="1.1" fill="none"/>
<circle cx="675.5" cy="733.75" r="2.6" stroke="#000" stroke-width="1.1" fill="none"/>
<circle cx="683" cy="732.5" r="2.6" stroke="#000" stroke-width="1.1" fill="none"/>
<circle cx="668" cy="738" r="2.6" stroke="#000" stroke-width="1.1" fill="none"/>
<circle cx="683" cy="737.5" r="2.6" stroke="#000" stroke-width="1.1" fill="none"/>
<line x1="103.5" y1="594" x2="103.5" y2="838.35" stroke="#000" stroke-width="2.7" stroke-linecap="butt"/>
<line x1="95" y1="607" x2="103.5" y2="607" stroke="#000" stroke-width="2.7" stroke-linecap="butt"/>
<text x="84.4" y="617" font-size="29.5" text-anchor="end">20</text>
<line x1="95" y1="664.4" x2="103.5" y2="664.4" stroke="#000" stroke-width="2.7" stroke-linecap="butt"/>
<text x="84.4" y="674.4" font-size="29.5" text-anchor="end">15</text>
<line x1="95" y1="721.8" x2="103.5" y2="721.8" stroke="#000" stroke-width="2.7" stroke-linecap="butt"/>
<text x="84.4" y="731.8" font-size="29.5" text-anchor="end">10</text>
<line x1="95" y1="779.3" x2="103.5" y2="779.3" stroke="#000" stroke-width="2.7" stroke-linecap="butt"/>
<text x="84.4" y="789.3" font-size="29.5" text-anchor="end">5</text>
<line x1="95" y1="837" x2="103.5" y2="837" stroke="#000" stroke-width="2.7" stroke-linecap="butt"/>
<text x="84.4" y="847" font-size="29.5" text-anchor="end">0</text>
<line x1="95" y1="837" x2="721.7" y2="837" stroke="#000" stroke-width="2.7" stroke-linecap="butt"/>
<line x1="146.4" y1="837" x2="146.4" y2="845" stroke="#000" stroke-width="2.7" stroke-linecap="butt"/>
<line x1="200.5" y1="837" x2="200.5" y2="845" stroke="#000" stroke-width="2.7" stroke-linecap="butt"/>
<line x1="254.4" y1="837" x2="254.4" y2="845" stroke="#000" stroke-width="2.7" stroke-linecap="butt"/>
<line x1="308.5" y1="837" x2="308.5" y2="845" stroke="#000" stroke-width="2.7" stroke-linecap="butt"/>
<line x1="362.5" y1="837" x2="362.5" y2="845" stroke="#000" stroke-width="2.7" stroke-linecap="butt"/>
<line x1="460" y1="837" x2="460" y2="845" stroke="#000" stroke-width="2.7" stroke-linecap="butt"/>
<line x1="513.75" y1="837" x2="513.75" y2="845" stroke="#000" stroke-width="2.7" stroke-linecap="butt"/>
<line x1="567.5" y1="837" x2="567.5" y2="845" stroke="#000" stroke-width="2.7" stroke-linecap="butt"/>
<line x1="621.5" y1="837" x2="621.5" y2="845" stroke="#000" stroke-width="2.7" stroke-linecap="butt"/>
<line x1="675.5" y1="837" x2="675.5" y2="845" stroke="#000" stroke-width="2.7" stroke-linecap="butt"/>
<path d="M148.6,151.9 V147.5 L202,148.5 V218.2" stroke="#000" stroke-width="1.5" fill="none" stroke-linejoin="miter"/>
<path d="M311.6,225.3 V76 L361.7,76.5 V97.2" stroke="#000" stroke-width="1.5" fill="none" stroke-linejoin="miter"/>
<path d="M461.75,47.5 V43.75 L568,45 V113.75" stroke="#000" stroke-width="1.5" fill="none" stroke-linejoin="miter"/>
<path d="M621.75,122.5 V42.5 L676.25,43.5 V46.25" stroke="#000" stroke-width="1.5" fill="none" stroke-linejoin="miter"/>
<path d="M310.5,392 V334.8 H360.2 V342.6" stroke="#000" stroke-width="1.5" fill="none" stroke-linejoin="miter"/>
<path d="M622,377.5 V306.25 H676.25 V313.75" stroke="#000" stroke-width="1.5" fill="none" stroke-linejoin="miter"/>
<path d="M146.4,783.9 V595.9 H254.8 V598.3" stroke="#000" stroke-width="1.5" fill="none" stroke-linejoin="miter"/>
<path d="M309.3,795.6 V728.5 H361.7 V741.1" stroke="#000" stroke-width="1.5" fill="none" stroke-linejoin="miter"/>
<path d="M454.5,742.5 V648.25 L568.75,648.75 V662" stroke="#000" stroke-width="1.5" fill="none" stroke-linejoin="miter"/>
<path d="M462.5,742.5 V701.25 H513.75 V730" stroke="#000" stroke-width="1.5" fill="none" stroke-linejoin="miter"/>
<path d="M620.5,747.5 V690 H672.5 V697.5" stroke="#000" stroke-width="1.5" fill="none" stroke-linejoin="miter"/>
<path d="M171.8,132.2 L171.8,127.5 M171.8,132.2 L176.27,130.75 M171.8,132.2 L174.56,136 M171.8,132.2 L169.04,136 M171.8,132.2 L167.33,130.75" stroke="#000" stroke-width="2" stroke-linecap="round" fill="none"/>
<path d="M331.05,61.7 L331.05,57 M331.05,61.7 L335.52,60.25 M331.05,61.7 L333.81,65.5 M331.05,61.7 L328.29,65.5 M331.05,61.7 L326.58,60.25" stroke="#000" stroke-width="2" stroke-linecap="round" fill="none"/>
<path d="M344.95,61.7 L344.95,57 M344.95,61.7 L349.42,60.25 M344.95,61.7 L347.71,65.5 M344.95,61.7 L342.19,65.5 M344.95,61.7 L340.48,60.25" stroke="#000" stroke-width="2" stroke-linecap="round" fill="none"/>
<path d="M503.65,28.2 L503.65,23.5 M503.65,28.2 L508.12,26.75 M503.65,28.2 L506.41,32 M503.65,28.2 L500.89,32 M503.65,28.2 L499.18,26.75" stroke="#000" stroke-width="2" stroke-linecap="round" fill="none"/>
<path d="M517.55,28.2 L517.55,23.5 M517.55,28.2 L522.02,26.75 M517.55,28.2 L520.31,32 M517.55,28.2 L514.79,32 M517.55,28.2 L513.08,26.75" stroke="#000" stroke-width="2" stroke-linecap="round" fill="none"/>
<path d="M641.8,33.2 L641.8,28.5 M641.8,33.2 L646.27,31.75 M641.8,33.2 L644.56,37 M641.8,33.2 L639.04,37 M641.8,33.2 L637.33,31.75" stroke="#000" stroke-width="2" stroke-linecap="round" fill="none"/>
<path d="M655.7,33.2 L655.7,28.5 M655.7,33.2 L660.17,31.75 M655.7,33.2 L658.46,37 M655.7,33.2 L652.94,37 M655.7,33.2 L651.23,31.75" stroke="#000" stroke-width="2" stroke-linecap="round" fill="none"/>
<path d="M326.05,320 L326.05,315.3 M326.05,320 L330.52,318.55 M326.05,320 L328.81,323.8 M326.05,320 L323.29,323.8 M326.05,320 L321.58,318.55" stroke="#000" stroke-width="2" stroke-linecap="round" fill="none"/>
<path d="M339.95,320 L339.95,315.3 M339.95,320 L344.42,318.55 M339.95,320 L342.71,323.8 M339.95,320 L337.19,323.8 M339.95,320 L335.48,318.55" stroke="#000" stroke-width="2" stroke-linecap="round" fill="none"/>
<path d="M641.05,295.7 L641.05,291 M641.05,295.7 L645.52,294.25 M641.05,295.7 L643.81,299.5 M641.05,295.7 L638.29,299.5 M641.05,295.7 L636.58,294.25" stroke="#000" stroke-width="2" stroke-linecap="round" fill="none"/>
<path d="M654.95,295.7 L654.95,291 M654.95,295.7 L659.42,294.25 M654.95,295.7 L657.71,299.5 M654.95,295.7 L652.19,299.5 M654.95,295.7 L650.48,294.25" stroke="#000" stroke-width="2" stroke-linecap="round" fill="none"/>
<path d="M194.75,580.4 L194.75,575.7 M194.75,580.4 L199.22,578.95 M194.75,580.4 L197.51,584.2 M194.75,580.4 L191.99,584.2 M194.75,580.4 L190.28,578.95" stroke="#000" stroke-width="2" stroke-linecap="round" fill="none"/>
<path d="M208.65,580.4 L208.65,575.7 M208.65,580.4 L213.12,578.95 M208.65,580.4 L211.41,584.2 M208.65,580.4 L205.89,584.2 M208.65,580.4 L204.18,578.95" stroke="#000" stroke-width="2" stroke-linecap="round" fill="none"/>
<path d="M326.55,714.4 L326.55,709.7 M326.55,714.4 L331.02,712.95 M326.55,714.4 L329.31,718.2 M326.55,714.4 L323.79,718.2 M326.55,714.4 L322.08,712.95" stroke="#000" stroke-width="2" stroke-linecap="round" fill="none"/>
<path d="M340.45,714.4 L340.45,709.7 M340.45,714.4 L344.92,712.95 M340.45,714.4 L343.21,718.2 M340.45,714.4 L337.69,718.2 M340.45,714.4 L335.98,712.95" stroke="#000" stroke-width="2" stroke-linecap="round" fill="none"/>
<path d="M504.65,633.2 L504.65,628.5 M504.65,633.2 L509.12,631.75 M504.65,633.2 L507.41,637 M504.65,633.2 L501.89,637 M504.65,633.2 L500.18,631.75" stroke="#000" stroke-width="2" stroke-linecap="round" fill="none"/>
<path d="M518.55,633.2 L518.55,628.5 M518.55,633.2 L523.02,631.75 M518.55,633.2 L521.31,637 M518.55,633.2 L515.79,637 M518.55,633.2 L514.08,631.75" stroke="#000" stroke-width="2" stroke-linecap="round" fill="none"/>
<path d="M486.25,688.2 L486.25,683.5 M486.25,688.2 L490.72,686.75 M486.25,688.2 L489.01,692 M486.25,688.2 L483.49,692 M486.25,688.2 L481.78,686.75" stroke="#000" stroke-width="2" stroke-linecap="round" fill="none"/>
<path d="M637.05,675.7 L637.05,671 M637.05,675.7 L641.52,674.25 M637.05,675.7 L639.81,679.5 M637.05,675.7 L634.29,679.5 M637.05,675.7 L632.58,674.25" stroke="#000" stroke-width="2" stroke-linecap="round" fill="none"/>
<path d="M650.95,675.7 L650.95,671 M650.95,675.7 L655.42,674.25 M650.95,675.7 L653.71,679.5 M650.95,675.7 L648.19,679.5 M650.95,675.7 L646.48,674.25" stroke="#000" stroke-width="2" stroke-linecap="round" fill="none"/>
<text x="393" y="58.5" font-size="29" text-anchor="start">Lid</text>
<text x="393" y="343.5" font-size="29" text-anchor="start">Base</text>
<text x="391" y="625.5" font-size="29" text-anchor="start">20S</text>
<text transform="translate(27.5,415) rotate(-90)" font-size="29" text-anchor="middle">Protein abundance [ppm*1000]</text>
<text transform="translate(160.9,872.1) rotate(-45)" font-size="29" text-anchor="end">WT</text>
<text transform="translate(217.3,869.8) rotate(-45)" font-size="29" text-anchor="end"><tspan font-style="italic">sp1</tspan></text>
<text transform="translate(266.6,868.5) rotate(-45)" font-size="29" text-anchor="end"><tspan font-style="italic">rpn8a</tspan></text>
<text transform="translate(326.8,868.1) rotate(-45)" font-size="29" text-anchor="end">WT+DMSO</text>
<text transform="translate(379,868.7) rotate(-45)" font-size="29" text-anchor="end">WT+MG132</text>
<text transform="translate(473.3,868.6) rotate(-45)" font-size="29" text-anchor="end"><tspan font-style="italic">ppi2</tspan></text>
<text transform="translate(528.25,869.1) rotate(-45)" font-size="29" text-anchor="end"><tspan font-style="italic">sp1 ppi2</tspan></text>
<text transform="translate(579.5,869.1) rotate(-45)" font-size="29" text-anchor="end"><tspan font-style="italic">rpn8a ppi2</tspan></text>
<text transform="translate(639.75,867.6) rotate(-45)" font-size="29" text-anchor="end"><tspan font-style="italic">ppi2</tspan>+DMSO</text>
<text transform="translate(691.25,867.6) rotate(-45)" font-size="29" text-anchor="end"><tspan font-style="italic">ppi2</tspan>+MG132</text>
<text x="-2.6" y="30.5" font-size="42" text-anchor="start" font-weight="bold">a</text>
<text x="775.2" y="31.4" font-size="42" text-anchor="start" font-weight="bold">b</text>
<rect x="920.1" y="147.8" width="32.4" height="290.8" fill="#606060" stroke="#000" stroke-width="4"/>
<rect x="956.5" y="148.9" width="32.5" height="289.7" fill="#d3d3d3" stroke="#000" stroke-width="4"/>
<rect x="1030.3" y="262.7" width="32.4" height="175.9" fill="#606060" stroke="#000" stroke-width="4"/>
<rect x="1066.7" y="236.6" width="32.8" height="202" fill="#d3d3d3" stroke="#000" stroke-width="4"/>
<rect x="1141.2" y="301.8" width="32.2" height="136.8" fill="#606060" stroke="#000" stroke-width="4"/>
<rect x="1177.4" y="274" width="32.1" height="164.6" fill="#d3d3d3" stroke="#000" stroke-width="4"/>
<rect x="1251.5" y="341" width="32.2" height="97.6" fill="#606060" stroke="#000" stroke-width="4"/>
<rect x="1287.7" y="316" width="32.5" height="122.6" fill="#d3d3d3" stroke="#000" stroke-width="4"/>
<line x1="935.7" y1="146.8" x2="935.7" y2="114.2" stroke="#000" stroke-width="2" stroke-linecap="butt"/>
<line x1="926.7" y1="114.2" x2="944.7" y2="114.2" stroke="#000" stroke-width="2" stroke-linecap="butt"/>
<line x1="973.2" y1="147.9" x2="973.2" y2="129.5" stroke="#000" stroke-width="2" stroke-linecap="butt"/>
<line x1="964.2" y1="129.5" x2="982.2" y2="129.5" stroke="#000" stroke-width="2" stroke-linecap="butt"/>
<line x1="1046.4" y1="261.7" x2="1046.4" y2="227.7" stroke="#000" stroke-width="2" stroke-linecap="butt"/>
<line x1="1037.4" y1="227.7" x2="1055.4" y2="227.7" stroke="#000" stroke-width="2" stroke-linecap="butt"/>
<line x1="1083.2" y1="235.6" x2="1083.2" y2="213" stroke="#000" stroke-width="2" stroke-linecap="butt"/>
<line x1="1074.2" y1="213" x2="1092.2" y2="213" stroke="#000" stroke-width="2" stroke-linecap="butt"/>
<line x1="1156.7" y1="300.8" x2="1156.7" y2="270.2" stroke="#000" stroke-width="2" stroke-linecap="butt"/>
<line x1="1147.7" y1="270.2" x2="1165.7" y2="270.2" stroke="#000" stroke-width="2" stroke-linecap="butt"/>
<line x1="1193.8" y1="273" x2="1193.8" y2="247" stroke="#000" stroke-width="2" stroke-linecap="butt"/>
<line x1="1184.8" y1="247" x2="1202.8" y2="247" stroke="#000" stroke-width="2" stroke-linecap="butt"/>
<line x1="1267.3" y1="340" x2="1267.3" y2="316.6" stroke="#000" stroke-width="2" stroke-linecap="butt"/>
<line x1="1258.3" y1="316.6" x2="1276.3" y2="316.6" stroke="#000" stroke-width="2" stroke-linecap="butt"/>
<line x1="1304.1" y1="315" x2="1304.1" y2="298" stroke="#000" stroke-width="2" stroke-linecap="butt"/>
<line x1="1295.1" y1="298" x2="1313.1" y2="298" stroke="#000" stroke-width="2" stroke-linecap="butt"/>
<circle cx="927.3" cy="127.5" r="4.2" stroke="#000" stroke-width="2" fill="none"/>
<circle cx="945.2" cy="127.5" r="4.2" stroke="#000" stroke-width="2" fill="none"/>
<circle cx="936.3" cy="182.5" r="4.2" stroke="#000" stroke-width="2" fill="none"/>
<circle cx="973.2" cy="129.5" r="4.2" stroke="#000" stroke-width="2" fill="none"/>
<circle cx="973.2" cy="147.5" r="4.2" stroke="#000" stroke-width="2" fill="none"/>
<circle cx="973.2" cy="163" r="4.2" stroke="#000" stroke-width="2" fill="none"/>
<circle cx="1046.4" cy="235.4" r="4.2" stroke="#000" stroke-width="2" fill="none"/>
<circle cx="1046.4" cy="248.3" r="4.2" stroke="#000" stroke-width="2" fill="none"/>
<circle cx="1046.4" cy="297.3" r="4.2" stroke="#000" stroke-width="2" fill="none"/>
<circle cx="1083.2" cy="213" r="4.2" stroke="#000" stroke-width="2" fill="none"/>
<circle cx="1083.2" cy="234.1" r="4.2" stroke="#000" stroke-width="2" fill="none"/>
<circle cx="1083.2" cy="255.3" r="4.2" stroke="#000" stroke-width="2" fill="none"/>
<circle cx="1148.2" cy="280.5" r="4.2" stroke="#000" stroke-width="2" fill="none"/>
<circle cx="1165.7" cy="284.4" r="4.2" stroke="#000" stroke-width="2" fill="none"/>
<circle cx="1156.7" cy="332" r="4.2" stroke="#000" stroke-width="2" fill="none"/>
<circle cx="1193.8" cy="249" r="4.2" stroke="#000" stroke-width="2" fill="none"/>
<circle cx="1193.8" cy="268.9" r="4.2" stroke="#000" stroke-width="2" fill="none"/>
<circle cx="1193.8" cy="296" r="4.2" stroke="#000" stroke-width="2" fill="none"/>
<circle cx="1258.5" cy="324.3" r="4.2" stroke="#000" stroke-width="2" fill="none"/>
<circle cx="1275.8" cy="327.4" r="4.2" stroke="#000" stroke-width="2" fill="none"/>
<circle cx="1267.3" cy="361.7" r="4.2" stroke="#000" stroke-width="2" fill="none"/>
<circle cx="1304.1" cy="299" r="4.2" stroke="#000" stroke-width="2" fill="none"/>
<circle cx="1304.1" cy="310.2" r="4.2" stroke="#000" stroke-width="2" fill="none"/>
<circle cx="1304.1" cy="327.4" r="4.2" stroke="#000" stroke-width="2" fill="none"/>
<line x1="899.5" y1="30" x2="899.5" y2="440.6" stroke="#000" stroke-width="4" stroke-linecap="butt"/>
<line x1="881" y1="32" x2="899.5" y2="32" stroke="#000" stroke-width="4" stroke-linecap="butt"/>
<text x="868.8" y="40.8" font-size="28.8" text-anchor="end">600</text>
<line x1="881" y1="167.4" x2="899.5" y2="167.4" stroke="#000" stroke-width="4" stroke-linecap="butt"/>
<text x="868.8" y="176.2" font-size="28.8" text-anchor="end">400</text>
<line x1="881" y1="302.9" x2="899.5" y2="302.9" stroke="#000" stroke-width="4" stroke-linecap="butt"/>
<text x="868.8" y="311.7" font-size="28.8" text-anchor="end">200</text>
<line x1="881" y1="438.3" x2="899.5" y2="438.3" stroke="#000" stroke-width="4" stroke-linecap="butt"/>
<text x="868.8" y="447.1" font-size="28.8" text-anchor="end">0</text>
<line x1="881" y1="438.6" x2="1343" y2="438.6" stroke="#000" stroke-width="4" stroke-linecap="butt"/>
<text x="946" y="474.8" font-size="28.5" text-anchor="middle">DMSO</text>
<text x="1061.6" y="474.8" font-size="28.5" text-anchor="middle">0.5 µM</text>
<text x="1176" y="474.8" font-size="28.5" text-anchor="middle">2 µM</text>
<text x="1291" y="474.8" font-size="28.5" text-anchor="middle">80 µM</text>
<rect x="1157.8" y="67.8" width="23.1" height="16.5" fill="#404040" stroke="#222" stroke-width="1.2"/>
<rect x="1157.8" y="101.9" width="23.1" height="16.4" fill="#d8d8d8" stroke="#444" stroke-width="1.2"/>
<text x="1193.1" y="81.4" font-size="25" text-anchor="start" font-style="italic">ppi2</text>
<text x="1193.8" y="118.2" font-size="25" text-anchor="start" font-style="italic">rpn8a ppi2</text>
<text transform="translate(801,235) rotate(-90)" font-size="28.5" text-anchor="middle">RFU/min</text>
<text x="787.5" y="541.3" font-size="42" text-anchor="start" font-weight="bold">c</text>
<rect x="912.6" y="665" width="21.3" height="206.3" fill="#606060" stroke="#000" stroke-width="3.6"/>
<rect x="937.5" y="677.2" width="21.5" height="194.1" fill="#d3d3d3" stroke="#000" stroke-width="3.6"/>
<rect x="987.55" y="746.4" width="21.3" height="124.9" fill="#606060" stroke="#000" stroke-width="3.6"/>
<rect x="1012.45" y="724.8" width="21.5" height="146.5" fill="#d3d3d3" stroke="#000" stroke-width="3.6"/>
<rect x="1062.5" y="776.8" width="21.3" height="94.5" fill="#606060" stroke="#000" stroke-width="3.6"/>
<rect x="1087.4" y="742.1" width="21.5" height="129.2" fill="#d3d3d3" stroke="#000" stroke-width="3.6"/>
<rect x="1137.45" y="817.8" width="21.3" height="53.5" fill="#606060" stroke="#000" stroke-width="3.6"/>
<rect x="1162.35" y="781.9" width="21.5" height="89.4" fill="#d3d3d3" stroke="#000" stroke-width="3.6"/>
<rect x="1212.4" y="861.2" width="21.3" height="10.1" fill="#606060" stroke="#000" stroke-width="3.6"/>
<rect x="1237.3" y="836.1" width="21.5" height="35.2" fill="#d3d3d3" stroke="#000" stroke-width="3.6"/>
<rect x="1287.35" y="866.8" width="21.3" height="4.5" fill="#606060" stroke="#000" stroke-width="3.6"/>
<rect x="1312.25" y="853.4" width="21.5" height="17.9" fill="#d3d3d3" stroke="#000" stroke-width="3.6"/>
<circle cx="923.47" cy="568.6" r="3.6" stroke="#000" stroke-width="1.7" fill="none"/>
<circle cx="914.32" cy="580.04" r="3.6" stroke="#000" stroke-width="1.7" fill="none"/>
<circle cx="923.47" cy="588.04" r="3.6" stroke="#000" stroke-width="1.7" fill="none"/>
<circle cx="932.16" cy="587.36" r="3.6" stroke="#000" stroke-width="1.7" fill="none"/>
<circle cx="932.16" cy="612.75" r="3.6" stroke="#000" stroke-width="1.7" fill="none"/>
<circle cx="914.32" cy="619.62" r="3.6" stroke="#000" stroke-width="1.7" fill="none"/>
<circle cx="923.47" cy="621.9" r="3.6" stroke="#000" stroke-width="1.7" fill="none"/>
<circle cx="932.16" cy="620.07" r="3.6" stroke="#000" stroke-width="1.7" fill="none"/>
<circle cx="914.32" cy="638.38" r="3.6" stroke="#000" stroke-width="1.7" fill="none"/>
<circle cx="923.47" cy="639.98" r="3.6" stroke="#000" stroke-width="1.7" fill="none"/>
<circle cx="923.47" cy="654.39" r="3.6" stroke="#000" stroke-width="1.7" fill="none"/>
<circle cx="932.16" cy="652.1" r="3.6" stroke="#000" stroke-width="1.7" fill="none"/>
<circle cx="914.32" cy="680.7" r="3.6" stroke="#000" stroke-width="1.7" fill="none"/>
<circle cx="923.47" cy="677.27" r="3.6" stroke="#000" stroke-width="1.7" fill="none"/>
<circle cx="932.16" cy="676.58" r="3.6" stroke="#000" stroke-width="1.7" fill="none"/>
<circle cx="918.89" cy="695.57" r="3.6" stroke="#000" stroke-width="1.7" fill="none"/>
<circle cx="928.04" cy="694.43" r="3.6" stroke="#000" stroke-width="1.7" fill="none"/>
<circle cx="923.47" cy="707.01" r="3.6" stroke="#000" stroke-width="1.7" fill="none"/>
<circle cx="932.16" cy="705.87" r="3.6" stroke="#000" stroke-width="1.7" fill="none"/>
<circle cx="923.47" cy="720.74" r="3.6" stroke="#000" stroke-width="1.7" fill="none"/>
<circle cx="914.32" cy="731.03" r="3.6" stroke="#000" stroke-width="1.7" fill="none"/>
<circle cx="923.47" cy="735.15" r="3.6" stroke="#000" stroke-width="1.7" fill="none"/>
<circle cx="932.16" cy="731.03" r="3.6" stroke="#000" stroke-width="1.7" fill="none"/>
<circle cx="923.47" cy="750.48" r="3.6" stroke="#000" stroke-width="1.7" fill="none"/>
<circle cx="948.18" cy="613.67" r="3.6" stroke="#000" stroke-width="1.7" fill="none"/>
<circle cx="948.18" cy="629.22" r="3.6" stroke="#000" stroke-width="1.7" fill="none"/>
<circle cx="957.33" cy="632.66" r="3.6" stroke="#000" stroke-width="1.7" fill="none"/>
<circle cx="943.6" cy="638.38" r="3.6" stroke="#000" stroke-width="1.7" fill="none"/>
<circle cx="948.18" cy="640.66" r="3.6" stroke="#000" stroke-width="1.7" fill="none"/>
<circle cx="953.21" cy="644.1" r="3.6" stroke="#000" stroke-width="1.7" fill="none"/>
<circle cx="943.6" cy="646.38" r="3.6" stroke="#000" stroke-width="1.7" fill="none"/>
<circle cx="948.18" cy="649.81" r="3.6" stroke="#000" stroke-width="1.7" fill="none"/>
<circle cx="943.6" cy="669.26" r="3.6" stroke="#000" stroke-width="1.7" fill="none"/>
<circle cx="948.18" cy="669.26" r="3.6" stroke="#000" stroke-width="1.7" fill="none"/>
<circle cx="953.21" cy="677.27" r="3.6" stroke="#000" stroke-width="1.7" fill="none"/>
<circle cx="943.6" cy="682.99" r="3.6" stroke="#000" stroke-width="1.7" fill="none"/>
<circle cx="948.18" cy="682.99" r="3.6" stroke="#000" stroke-width="1.7" fill="none"/>
<circle cx="953.21" cy="682.99" r="3.6" stroke="#000" stroke-width="1.7" fill="none"/>
<circle cx="948.18" cy="692.14" r="3.6" stroke="#000" stroke-width="1.7" fill="none"/>
<circle cx="939.48" cy="701.29" r="3.6" stroke="#000" stroke-width="1.7" fill="none"/>
<circle cx="943.6" cy="707.01" r="3.6" stroke="#000" stroke-width="1.7" fill="none"/>
<circle cx="953.21" cy="707.01" r="3.6" stroke="#000" stroke-width="1.7" fill="none"/>
<circle cx="957.79" cy="705.87" r="3.6" stroke="#000" stroke-width="1.7" fill="none"/>
<circle cx="948.18" cy="707.01" r="3.6" stroke="#000" stroke-width="1.7" fill="none"/>
<circle cx="946.35" cy="720.74" r="3.6" stroke="#000" stroke-width="1.7" fill="none"/>
<circle cx="950.92" cy="724.17" r="3.6" stroke="#000" stroke-width="1.7" fill="none"/>
<circle cx="948.18" cy="741.33" r="3.6" stroke="#000" stroke-width="1.7" fill="none"/>
<circle cx="998.28" cy="686.42" r="3.6" stroke="#000" stroke-width="1.7" fill="none"/>
<circle cx="1000.8" cy="688.71" r="3.6" stroke="#000" stroke-width="1.7" fill="none"/>
<circle cx="994.39" cy="697.86" r="3.6" stroke="#000" stroke-width="1.7" fill="none"/>
<circle cx="1003.54" cy="697.86" r="3.6" stroke="#000" stroke-width="1.7" fill="none"/>
<circle cx="994.39" cy="703.58" r="3.6" stroke="#000" stroke-width="1.7" fill="none"/>
<circle cx="998.28" cy="710.44" r="3.6" stroke="#000" stroke-width="1.7" fill="none"/>
<circle cx="994.39" cy="720.74" r="3.6" stroke="#000" stroke-width="1.7" fill="none"/>
<circle cx="1003.54" cy="724.17" r="3.6" stroke="#000" stroke-width="1.7" fill="none"/>
<circle cx="998.28" cy="726.46" r="3.6" stroke="#000" stroke-width="1.7" fill="none"/>
<circle cx="1003.54" cy="731.03" r="3.6" stroke="#000" stroke-width="1.7" fill="none"/>
<circle cx="994.39" cy="735.61" r="3.6" stroke="#000" stroke-width="1.7" fill="none"/>
<circle cx="998.28" cy="735.61" r="3.6" stroke="#000" stroke-width="1.7" fill="none"/>
<circle cx="998.28" cy="752.77" r="3.6" stroke="#000" stroke-width="1.7" fill="none"/>
<circle cx="1005.83" cy="766.49" r="3.6" stroke="#000" stroke-width="1.7" fill="none"/>
<circle cx="998.28" cy="767.64" r="3.6" stroke="#000" stroke-width="1.7" fill="none"/>
<circle cx="988.67" cy="772.21" r="3.6" stroke="#000" stroke-width="1.7" fill="none"/>
<circle cx="994.39" cy="779.08" r="3.6" stroke="#000" stroke-width="1.7" fill="none"/>
<circle cx="1005.83" cy="773.36" r="3.6" stroke="#000" stroke-width="1.7" fill="none"/>
<circle cx="998.28" cy="784.8" r="3.6" stroke="#000" stroke-width="1.7" fill="none"/>
<circle cx="994.39" cy="792.8" r="3.6" stroke="#000" stroke-width="1.7" fill="none"/>
<circle cx="1001.25" cy="792.8" r="3.6" stroke="#000" stroke-width="1.7" fill="none"/>
<circle cx="998.28" cy="803.1" r="3.6" stroke="#000" stroke-width="1.7" fill="none"/>
<circle cx="1023.67" cy="638.38" r="3.6" stroke="#000" stroke-width="1.7" fill="none"/>
<circle cx="1023.67" cy="647.07" r="3.6" stroke="#000" stroke-width="1.7" fill="none"/>
<circle cx="1023.67" cy="671.55" r="3.6" stroke="#000" stroke-width="1.7" fill="none"/>
<circle cx="1014.29" cy="676.12" r="3.6" stroke="#000" stroke-width="1.7" fill="none"/>
<circle cx="1032.14" cy="667.66" r="3.6" stroke="#000" stroke-width="1.7" fill="none"/>
<circle cx="1023.67" cy="697.86" r="3.6" stroke="#000" stroke-width="1.7" fill="none"/>
<circle cx="1032.14" cy="696.71" r="3.6" stroke="#000" stroke-width="1.7" fill="none"/>
<circle cx="1032.14" cy="704.72" r="3.6" stroke="#000" stroke-width="1.7" fill="none"/>
<circle cx="1014.29" cy="711.59" r="3.6" stroke="#000" stroke-width="1.7" fill="none"/>
<circle cx="1023.67" cy="711.59" r="3.6" stroke="#000" stroke-width="1.7" fill="none"/>
<circle cx="1023.67" cy="723.02" r="3.6" stroke="#000" stroke-width="1.7" fill="none"/>
<circle cx="1032.14" cy="727.6" r="3.6" stroke="#000" stroke-width="1.7" fill="none"/>
<circle cx="1023.67" cy="732.18" r="3.6" stroke="#000" stroke-width="1.7" fill="none"/>
<circle cx="1014.29" cy="736.75" r="3.6" stroke="#000" stroke-width="1.7" fill="none"/>
<circle cx="1032.14" cy="736.75" r="3.6" stroke="#000" stroke-width="1.7" fill="none"/>
<circle cx="1023.67" cy="742.47" r="3.6" stroke="#000" stroke-width="1.7" fill="none"/>
<circle cx="1023.67" cy="750.48" r="3.6" stroke="#000" stroke-width="1.7" fill="none"/>
<circle cx="1014.29" cy="755.05" r="3.6" stroke="#000" stroke-width="1.7" fill="none"/>
<circle cx="1032.14" cy="757.34" r="3.6" stroke="#000" stroke-width="1.7" fill="none"/>
<circle cx="1023.67" cy="759.63" r="3.6" stroke="#000" stroke-width="1.7" fill="none"/>
<circle cx="1014.29" cy="763.06" r="3.6" stroke="#000" stroke-width="1.7" fill="none"/>
<circle cx="1032.14" cy="768.78" r="3.6" stroke="#000" stroke-width="1.7" fill="none"/>
<circle cx="1023.67" cy="768.78" r="3.6" stroke="#000" stroke-width="1.7" fill="none"/>
<circle cx="1023.67" cy="790.51" r="3.6" stroke="#000" stroke-width="1.7" fill="none"/>
<circle cx="1073.32" cy="707.01" r="3.6" stroke="#000" stroke-width="1.7" fill="none"/>
<circle cx="1073.32" cy="733.32" r="3.6" stroke="#000" stroke-width="1.7" fill="none"/>
<circle cx="1065.31" cy="742.47" r="3.6" stroke="#000" stroke-width="1.7" fill="none"/>
<circle cx="1073.32" cy="742.47" r="3.6" stroke="#000" stroke-width="1.7" fill="none"/>
<circle cx="1079.04" cy="742.47" r="3.6" stroke="#000" stroke-width="1.7" fill="none"/>
<circle cx="1065.31" cy="749.33" r="3.6" stroke="#000" stroke-width="1.7" fill="none"/>
<circle cx="1073.32" cy="749.33" r="3.6" stroke="#000" stroke-width="1.7" fill="none"/>
<circle cx="1079.04" cy="749.33" r="3.6" stroke="#000" stroke-width="1.7" fill="none"/>
<circle cx="1073.32" cy="766.49" r="3.6" stroke="#000" stroke-width="1.7" fill="none"/>
<circle cx="1067.6" cy="772.21" r="3.6" stroke="#000" stroke-width="1.7" fill="none"/>
<circle cx="1079.04" cy="772.21" r="3.6" stroke="#000" stroke-width="1.7" fill="none"/>
<circle cx="1073.32" cy="779.08" r="3.6" stroke="#000" stroke-width="1.7" fill="none"/>
<circle cx="1073.32" cy="789.37" r="3.6" stroke="#000" stroke-width="1.7" fill="none"/>
<circle cx="1063.02" cy="805.39" r="3.6" stroke="#000" stroke-width="1.7" fill="none"/>
<circle cx="1069.89" cy="806.53" r="3.6" stroke="#000" stroke-width="1.7" fill="none"/>
<circle cx="1075.61" cy="811.11" r="3.6" stroke="#000" stroke-width="1.7" fill="none"/>
<circle cx="1081.33" cy="805.39" r="3.6" stroke="#000" stroke-width="1.7" fill="none"/>
<circle cx="1073.32" cy="837.41" r="3.6" stroke="#000" stroke-width="1.7" fill="none"/>
<circle cx="1101.46" cy="664.69" r="3.6" stroke="#000" stroke-width="1.7" fill="none"/>
<circle cx="1095.05" cy="671.55" r="3.6" stroke="#000" stroke-width="1.7" fill="none"/>
<circle cx="1101.46" cy="672.69" r="3.6" stroke="#000" stroke-width="1.7" fill="none"/>
<circle cx="1098.49" cy="685.28" r="3.6" stroke="#000" stroke-width="1.7" fill="none"/>
<circle cx="1091.62" cy="703.58" r="3.6" stroke="#000" stroke-width="1.7" fill="none"/>
<circle cx="1098.49" cy="709.3" r="3.6" stroke="#000" stroke-width="1.7" fill="none"/>
<circle cx="1105.35" cy="708.15" r="3.6" stroke="#000" stroke-width="1.7" fill="none"/>
<circle cx="1098.49" cy="717.3" r="3.6" stroke="#000" stroke-width="1.7" fill="none"/>
<circle cx="1089.33" cy="725.31" r="3.6" stroke="#000" stroke-width="1.7" fill="none"/>
<circle cx="1098.49" cy="723.02" r="3.6" stroke="#000" stroke-width="1.7" fill="none"/>
<circle cx="1107.64" cy="720.74" r="3.6" stroke="#000" stroke-width="1.7" fill="none"/>
<circle cx="1095.05" cy="732.18" r="3.6" stroke="#000" stroke-width="1.7" fill="none"/>
<circle cx="1098.49" cy="739.04" r="3.6" stroke="#000" stroke-width="1.7" fill="none"/>
<circle cx="1092.77" cy="755.05" r="3.6" stroke="#000" stroke-width="1.7" fill="none"/>
<circle cx="1098.49" cy="758.49" r="3.6" stroke="#000" stroke-width="1.7" fill="none"/>
<circle cx="1105.35" cy="757.34" r="3.6" stroke="#000" stroke-width="1.7" fill="none"/>
<circle cx="1098.49" cy="768.78" r="3.6" stroke="#000" stroke-width="1.7" fill="none"/>
<circle cx="1095.05" cy="788.23" r="3.6" stroke="#000" stroke-width="1.7" fill="none"/>
<circle cx="1107.64" cy="788.23" r="3.6" stroke="#000" stroke-width="1.7" fill="none"/>
<circle cx="1101.46" cy="793.95" r="3.6" stroke="#000" stroke-width="1.7" fill="none"/>
<circle cx="1092.77" cy="806.53" r="3.6" stroke="#000" stroke-width="1.7" fill="none"/>
<circle cx="1098.49" cy="805.39" r="3.6" stroke="#000" stroke-width="1.7" fill="none"/>
<circle cx="1104.2" cy="805.39" r="3.6" stroke="#000" stroke-width="1.7" fill="none"/>
<circle cx="1149.75" cy="766.54" r="3.6" stroke="#000" stroke-width="1.7" fill="none"/>
<circle cx="1145.17" cy="768.83" r="3.6" stroke="#000" stroke-width="1.7" fill="none"/>
<circle cx="1149.75" cy="775.7" r="3.6" stroke="#000" stroke-width="1.7" fill="none"/>
<circle cx="1146.32" cy="780.27" r="3.6" stroke="#000" stroke-width="1.7" fill="none"/>
<circle cx="1149.75" cy="796.29" r="3.6" stroke="#000" stroke-width="1.7" fill="none"/>
<circle cx="1147.46" cy="805.45" r="3.6" stroke="#000" stroke-width="1.7" fill="none"/>
<circle cx="1142.88" cy="813.46" r="3.6" stroke="#000" stroke-width="1.7" fill="none"/>
<circle cx="1152.04" cy="813.46" r="3.6" stroke="#000" stroke-width="1.7" fill="none"/>
<circle cx="1147.46" cy="819.18" r="3.6" stroke="#000" stroke-width="1.7" fill="none"/>
<circle cx="1138.31" cy="820.32" r="3.6" stroke="#000" stroke-width="1.7" fill="none"/>
<circle cx="1154.32" cy="822.61" r="3.6" stroke="#000" stroke-width="1.7" fill="none"/>
<circle cx="1147.46" cy="826.04" r="3.6" stroke="#000" stroke-width="1.7" fill="none"/>
<circle cx="1142.88" cy="831.76" r="3.6" stroke="#000" stroke-width="1.7" fill="none"/>
<circle cx="1152.04" cy="831.76" r="3.6" stroke="#000" stroke-width="1.7" fill="none"/>
<circle cx="1147.46" cy="837.48" r="3.6" stroke="#000" stroke-width="1.7" fill="none"/>
<circle cx="1142.88" cy="839.77" r="3.6" stroke="#000" stroke-width="1.7" fill="none"/>
<circle cx="1152.04" cy="840.92" r="3.6" stroke="#000" stroke-width="1.7" fill="none"/>
<circle cx="1147.46" cy="844.35" r="3.6" stroke="#000" stroke-width="1.7" fill="none"/>
<circle cx="1147.46" cy="851.21" r="3.6" stroke="#000" stroke-width="1.7" fill="none"/>
<circle cx="1145.17" cy="852.36" r="3.6" stroke="#000" stroke-width="1.7" fill="none"/>
<circle cx="1148.6" cy="846.64" r="3.6" stroke="#000" stroke-width="1.7" fill="none"/>
<circle cx="1173.09" cy="718.49" r="3.6" stroke="#000" stroke-width="1.7" fill="none"/>
<circle cx="1164.62" cy="753.96" r="3.6" stroke="#000" stroke-width="1.7" fill="none"/>
<circle cx="1173.09" cy="756.25" r="3.6" stroke="#000" stroke-width="1.7" fill="none"/>
<circle cx="1182.24" cy="751.67" r="3.6" stroke="#000" stroke-width="1.7" fill="none"/>
<circle cx="1169.2" cy="751.67" r="3.6" stroke="#000" stroke-width="1.7" fill="none"/>
<circle cx="1178.35" cy="760.82" r="3.6" stroke="#000" stroke-width="1.7" fill="none"/>
<circle cx="1173.09" cy="766.54" r="3.6" stroke="#000" stroke-width="1.7" fill="none"/>
<circle cx="1164.62" cy="772.27" r="3.6" stroke="#000" stroke-width="1.7" fill="none"/>
<circle cx="1173.09" cy="774.55" r="3.6" stroke="#000" stroke-width="1.7" fill="none"/>
<circle cx="1181.78" cy="774.55" r="3.6" stroke="#000" stroke-width="1.7" fill="none"/>
<circle cx="1177.21" cy="779.13" r="3.6" stroke="#000" stroke-width="1.7" fill="none"/>
<circle cx="1169.2" cy="776.84" r="3.6" stroke="#000" stroke-width="1.7" fill="none"/>
<circle cx="1173.09" cy="787.14" r="3.6" stroke="#000" stroke-width="1.7" fill="none"/>
<circle cx="1164.62" cy="798.58" r="3.6" stroke="#000" stroke-width="1.7" fill="none"/>
<circle cx="1173.09" cy="798.58" r="3.6" stroke="#000" stroke-width="1.7" fill="none"/>
<circle cx="1182.93" cy="798.58" r="3.6" stroke="#000" stroke-width="1.7" fill="none"/>
<circle cx="1169.2" cy="806.59" r="3.6" stroke="#000" stroke-width="1.7" fill="none"/>
<circle cx="1177.21" cy="805.45" r="3.6" stroke="#000" stroke-width="1.7" fill="none"/>
<circle cx="1173.09" cy="810.02" r="3.6" stroke="#000" stroke-width="1.7" fill="none"/>
<circle cx="1169.2" cy="814.6" r="3.6" stroke="#000" stroke-width="1.7" fill="none"/>
<circle cx="1177.21" cy="811.17" r="3.6" stroke="#000" stroke-width="1.7" fill="none"/>
<circle cx="1224.3" cy="848.43" r="3.6" stroke="#000" stroke-width="1.7" fill="none"/>
<circle cx="1229.82" cy="851.74" r="3.6" stroke="#000" stroke-width="1.7" fill="none"/>
<circle cx="1219.88" cy="853.95" r="3.6" stroke="#000" stroke-width="1.7" fill="none"/>
<circle cx="1227.62" cy="856.16" r="3.6" stroke="#000" stroke-width="1.7" fill="none"/>
<circle cx="1215.46" cy="857.26" r="3.6" stroke="#000" stroke-width="1.7" fill="none"/>
<circle cx="1222.09" cy="858.37" r="3.6" stroke="#000" stroke-width="1.7" fill="none"/>
<circle cx="1232.03" cy="858.37" r="3.6" stroke="#000" stroke-width="1.7" fill="none"/>
<circle cx="1213.26" cy="861.68" r="3.6" stroke="#000" stroke-width="1.7" fill="none"/>
<circle cx="1218.78" cy="862.79" r="3.6" stroke="#000" stroke-width="1.7" fill="none"/>
<circle cx="1225.41" cy="861.68" r="3.6" stroke="#000" stroke-width="1.7" fill="none"/>
<circle cx="1230.93" cy="863.89" r="3.6" stroke="#000" stroke-width="1.7" fill="none"/>
<circle cx="1214.36" cy="866.1" r="3.6" stroke="#000" stroke-width="1.7" fill="none"/>
<circle cx="1220.99" cy="866.1" r="3.6" stroke="#000" stroke-width="1.7" fill="none"/>
<circle cx="1227.62" cy="866.1" r="3.6" stroke="#000" stroke-width="1.7" fill="none"/>
<circle cx="1233.14" cy="866.1" r="3.6" stroke="#000" stroke-width="1.7" fill="none"/>
<circle cx="1216.57" cy="868.31" r="3.6" stroke="#000" stroke-width="1.7" fill="none"/>
<circle cx="1224.3" cy="868.31" r="3.6" stroke="#000" stroke-width="1.7" fill="none"/>
<circle cx="1230.93" cy="868.31" r="3.6" stroke="#000" stroke-width="1.7" fill="none"/>
<circle cx="1212.15" cy="867.21" r="3.6" stroke="#000" stroke-width="1.7" fill="none"/>
<circle cx="1222.09" cy="863.89" r="3.6" stroke="#000" stroke-width="1.7" fill="none"/>
<circle cx="1226.51" cy="865" r="3.6" stroke="#000" stroke-width="1.7" fill="none"/>
<circle cx="1248.6" cy="793.2" r="3.6" stroke="#000" stroke-width="1.7" fill="none"/>
<circle cx="1248.6" cy="806.45" r="3.6" stroke="#000" stroke-width="1.7" fill="none"/>
<circle cx="1248.6" cy="811.42" r="3.6" stroke="#000" stroke-width="1.7" fill="none"/>
<circle cx="1240.87" cy="822.8" r="3.6" stroke="#000" stroke-width="1.7" fill="none"/>
<circle cx="1248.6" cy="820.81" r="3.6" stroke="#000" stroke-width="1.7" fill="none"/>
<circle cx="1255.78" cy="822.8" r="3.6" stroke="#000" stroke-width="1.7" fill="none"/>
<circle cx="1245.29" cy="830.2" r="3.6" stroke="#000" stroke-width="1.7" fill="none"/>
<circle cx="1254.13" cy="830.2" r="3.6" stroke="#000" stroke-width="1.7" fill="none"/>
<circle cx="1238.66" cy="839.04" r="3.6" stroke="#000" stroke-width="1.7" fill="none"/>
<circle cx="1244.18" cy="837.38" r="3.6" stroke="#000" stroke-width="1.7" fill="none"/>
<circle cx="1249.71" cy="836.28" r="3.6" stroke="#000" stroke-width="1.7" fill="none"/>
<circle cx="1255.23" cy="837.93" r="3.6" stroke="#000" stroke-width="1.7" fill="none"/>
<circle cx="1259.65" cy="839.59" r="3.6" stroke="#000" stroke-width="1.7" fill="none"/>
<circle cx="1241.98" cy="842.9" r="3.6" stroke="#000" stroke-width="1.7" fill="none"/>
<circle cx="1248.6" cy="841.8" r="3.6" stroke="#000" stroke-width="1.7" fill="none"/>
<circle cx="1255.23" cy="842.9" r="3.6" stroke="#000" stroke-width="1.7" fill="none"/>
<circle cx="1244.18" cy="847.32" r="3.6" stroke="#000" stroke-width="1.7" fill="none"/>
<circle cx="1253.02" cy="846.22" r="3.6" stroke="#000" stroke-width="1.7" fill="none"/>
<circle cx="1248.6" cy="849.53" r="3.6" stroke="#000" stroke-width="1.7" fill="none"/>
<circle cx="1246.39" cy="852.85" r="3.6" stroke="#000" stroke-width="1.7" fill="none"/>
<circle cx="1241.98" cy="858.37" r="3.6" stroke="#000" stroke-width="1.7" fill="none"/>
<circle cx="1251.92" cy="856.16" r="3.6" stroke="#000" stroke-width="1.7" fill="none"/>
<circle cx="1255.23" cy="857.26" r="3.6" stroke="#000" stroke-width="1.7" fill="none"/>
<circle cx="1248.6" cy="858.37" r="3.6" stroke="#000" stroke-width="1.7" fill="none"/>
<circle cx="1297.21" cy="856.16" r="3.6" stroke="#000" stroke-width="1.7" fill="none"/>
<circle cx="1302.73" cy="858.37" r="3.6" stroke="#000" stroke-width="1.7" fill="none"/>
<circle cx="1292.79" cy="860.58" r="3.6" stroke="#000" stroke-width="1.7" fill="none"/>
<circle cx="1306.04" cy="862.79" r="3.6" stroke="#000" stroke-width="1.7" fill="none"/>
<circle cx="1289.47" cy="863.89" r="3.6" stroke="#000" stroke-width="1.7" fill="none"/>
<circle cx="1297.21" cy="862.79" r="3.6" stroke="#000" stroke-width="1.7" fill="none"/>
<circle cx="1301.62" cy="865" r="3.6" stroke="#000" stroke-width="1.7" fill="none"/>
<circle cx="1291.68" cy="867.21" r="3.6" stroke="#000" stroke-width="1.7" fill="none"/>
<circle cx="1297.21" cy="868.31" r="3.6" stroke="#000" stroke-width="1.7" fill="none"/>
<circle cx="1304.94" cy="867.21" r="3.6" stroke="#000" stroke-width="1.7" fill="none"/>
<circle cx="1290.58" cy="871.62" r="3.6" stroke="#000" stroke-width="1.7" fill="none"/>
<circle cx="1296.1" cy="871.62" r="3.6" stroke="#000" stroke-width="1.7" fill="none"/>
<circle cx="1301.62" cy="870.52" r="3.6" stroke="#000" stroke-width="1.7" fill="none"/>
<circle cx="1307.15" cy="870.52" r="3.6" stroke="#000" stroke-width="1.7" fill="none"/>
<circle cx="1293.89" cy="873.28" r="3.6" stroke="#000" stroke-width="1.7" fill="none"/>
<circle cx="1299.41" cy="873.28" r="3.6" stroke="#000" stroke-width="1.7" fill="none"/>
<circle cx="1306.04" cy="872.73" r="3.6" stroke="#000" stroke-width="1.7" fill="none"/>
<circle cx="1323.72" cy="818.6" r="3.6" stroke="#000" stroke-width="1.7" fill="none"/>
<circle cx="1323.72" cy="825.78" r="3.6" stroke="#000" stroke-width="1.7" fill="none"/>
<circle cx="1317.09" cy="841.8" r="3.6" stroke="#000" stroke-width="1.7" fill="none"/>
<circle cx="1322.61" cy="840.69" r="3.6" stroke="#000" stroke-width="1.7" fill="none"/>
<circle cx="1328.13" cy="840.69" r="3.6" stroke="#000" stroke-width="1.7" fill="none"/>
<circle cx="1332.55" cy="841.8" r="3.6" stroke="#000" stroke-width="1.7" fill="none"/>
<circle cx="1314.88" cy="846.22" r="3.6" stroke="#000" stroke-width="1.7" fill="none"/>
<circle cx="1320.4" cy="845.11" r="3.6" stroke="#000" stroke-width="1.7" fill="none"/>
<circle cx="1325.93" cy="846.22" r="3.6" stroke="#000" stroke-width="1.7" fill="none"/>
<circle cx="1332.55" cy="846.22" r="3.6" stroke="#000" stroke-width="1.7" fill="none"/>
<circle cx="1334.76" cy="847.32" r="3.6" stroke="#000" stroke-width="1.7" fill="none"/>
<circle cx="1318.19" cy="849.53" r="3.6" stroke="#000" stroke-width="1.7" fill="none"/>
<circle cx="1328.13" cy="849.53" r="3.6" stroke="#000" stroke-width="1.7" fill="none"/>
<circle cx="1321.51" cy="853.95" r="3.6" stroke="#000" stroke-width="1.7" fill="none"/>
<circle cx="1327.03" cy="855.05" r="3.6" stroke="#000" stroke-width="1.7" fill="none"/>
<circle cx="1319.3" cy="858.37" r="3.6" stroke="#000" stroke-width="1.7" fill="none"/>
<circle cx="1324.82" cy="859.47" r="3.6" stroke="#000" stroke-width="1.7" fill="none"/>
<circle cx="1329.24" cy="858.37" r="3.6" stroke="#000" stroke-width="1.7" fill="none"/>
<circle cx="1321.51" cy="863.89" r="3.6" stroke="#000" stroke-width="1.7" fill="none"/>
<circle cx="1327.03" cy="863.89" r="3.6" stroke="#000" stroke-width="1.7" fill="none"/>
<circle cx="1323.72" cy="867.21" r="3.6" stroke="#000" stroke-width="1.7" fill="none"/>
<circle cx="1321.51" cy="872.73" r="3.6" stroke="#000" stroke-width="1.7" fill="none"/>
<circle cx="1325.93" cy="872.73" r="3.6" stroke="#000" stroke-width="1.7" fill="none"/>
<circle cx="1219.72" cy="852.57" r="3.6" stroke="#000" stroke-width="1.7" fill="none"/>
<circle cx="1225.81" cy="850.82" r="3.6" stroke="#000" stroke-width="1.7" fill="none"/>
<circle cx="1223.67" cy="855.67" r="3.6" stroke="#000" stroke-width="1.7" fill="none"/>
<circle cx="1214.78" cy="862.52" r="3.6" stroke="#000" stroke-width="1.7" fill="none"/>
<circle cx="1214.4" cy="862.15" r="3.6" stroke="#000" stroke-width="1.7" fill="none"/>
<circle cx="1215" cy="857.49" r="3.6" stroke="#000" stroke-width="1.7" fill="none"/>
<circle cx="1221.6" cy="864.67" r="3.6" stroke="#000" stroke-width="1.7" fill="none"/>
<circle cx="1216" cy="857.57" r="3.6" stroke="#000" stroke-width="1.7" fill="none"/>
<circle cx="1225.37" cy="867.02" r="3.6" stroke="#000" stroke-width="1.7" fill="none"/>
<circle cx="1224.43" cy="856.39" r="3.6" stroke="#000" stroke-width="1.7" fill="none"/>
<circle cx="1231.86" cy="858.69" r="3.6" stroke="#000" stroke-width="1.7" fill="none"/>
<circle cx="1229.67" cy="858.06" r="3.6" stroke="#000" stroke-width="1.7" fill="none"/>
<circle cx="1216.38" cy="855.59" r="3.6" stroke="#000" stroke-width="1.7" fill="none"/>
<circle cx="1219.44" cy="864.7" r="3.6" stroke="#000" stroke-width="1.7" fill="none"/>
<circle cx="1217.06" cy="861.67" r="3.6" stroke="#000" stroke-width="1.7" fill="none"/>
<circle cx="1225.58" cy="856.28" r="3.6" stroke="#000" stroke-width="1.7" fill="none"/>
<circle cx="1223.89" cy="849.82" r="3.6" stroke="#000" stroke-width="1.7" fill="none"/>
<circle cx="1214.81" cy="859.12" r="3.6" stroke="#000" stroke-width="1.7" fill="none"/>
<circle cx="1226.36" cy="857.64" r="3.6" stroke="#000" stroke-width="1.7" fill="none"/>
<circle cx="1219.54" cy="860.53" r="3.6" stroke="#000" stroke-width="1.7" fill="none"/>
<circle cx="1222.13" cy="854.41" r="3.6" stroke="#000" stroke-width="1.7" fill="none"/>
<circle cx="1228.48" cy="863.25" r="3.6" stroke="#000" stroke-width="1.7" fill="none"/>
<circle cx="1218.24" cy="860.9" r="3.6" stroke="#000" stroke-width="1.7" fill="none"/>
<circle cx="1223.47" cy="865.57" r="3.6" stroke="#000" stroke-width="1.7" fill="none"/>
<circle cx="1227.27" cy="855.72" r="3.6" stroke="#000" stroke-width="1.7" fill="none"/>
<circle cx="1231.93" cy="859.53" r="3.6" stroke="#000" stroke-width="1.7" fill="none"/>
<circle cx="1221.48" cy="863.33" r="3.6" stroke="#000" stroke-width="1.7" fill="none"/>
<circle cx="1216.53" cy="860.69" r="3.6" stroke="#000" stroke-width="1.7" fill="none"/>
<circle cx="1214.43" cy="864.55" r="3.6" stroke="#000" stroke-width="1.7" fill="none"/>
<circle cx="1227.92" cy="860.96" r="3.6" stroke="#000" stroke-width="1.7" fill="none"/>
<circle cx="1229.98" cy="858.77" r="3.6" stroke="#000" stroke-width="1.7" fill="none"/>
<circle cx="1226.63" cy="860.75" r="3.6" stroke="#000" stroke-width="1.7" fill="none"/>
<circle cx="1224.49" cy="857.54" r="3.6" stroke="#000" stroke-width="1.7" fill="none"/>
<circle cx="1229.32" cy="867.2" r="3.6" stroke="#000" stroke-width="1.7" fill="none"/>
<circle cx="1222.52" cy="861.46" r="3.6" stroke="#000" stroke-width="1.7" fill="none"/>
<circle cx="1214.83" cy="864.65" r="3.6" stroke="#000" stroke-width="1.7" fill="none"/>
<circle cx="1225.74" cy="867.87" r="3.6" stroke="#000" stroke-width="1.7" fill="none"/>
<circle cx="1228.99" cy="857.23" r="3.6" stroke="#000" stroke-width="1.7" fill="none"/>
<circle cx="1220.88" cy="861.72" r="3.6" stroke="#000" stroke-width="1.7" fill="none"/>
<circle cx="1214.12" cy="862.77" r="3.6" stroke="#000" stroke-width="1.7" fill="none"/>
<circle cx="1216.83" cy="854.96" r="3.6" stroke="#000" stroke-width="1.7" fill="none"/>
<circle cx="1214.8" cy="865.41" r="3.6" stroke="#000" stroke-width="1.7" fill="none"/>
<circle cx="1216.11" cy="857.76" r="3.6" stroke="#000" stroke-width="1.7" fill="none"/>
<circle cx="1220.97" cy="865.56" r="3.6" stroke="#000" stroke-width="1.7" fill="none"/>
<circle cx="1215.2" cy="861.42" r="3.6" stroke="#000" stroke-width="1.7" fill="none"/>
<circle cx="1223.92" cy="865.74" r="3.6" stroke="#000" stroke-width="1.7" fill="none"/>
<circle cx="1228.94" cy="865.94" r="3.6" stroke="#000" stroke-width="1.7" fill="none"/>
<circle cx="1218.88" cy="857.83" r="3.6" stroke="#000" stroke-width="1.7" fill="none"/>
<circle cx="1220.37" cy="865.84" r="3.6" stroke="#000" stroke-width="1.7" fill="none"/>
<circle cx="1231.51" cy="859.07" r="3.6" stroke="#000" stroke-width="1.7" fill="none"/>
<circle cx="1216.98" cy="856.48" r="3.6" stroke="#000" stroke-width="1.7" fill="none"/>
<circle cx="1218.04" cy="859.53" r="3.6" stroke="#000" stroke-width="1.7" fill="none"/>
<circle cx="1224.66" cy="853.87" r="3.6" stroke="#000" stroke-width="1.7" fill="none"/>
<circle cx="1213.78" cy="862.8" r="3.6" stroke="#000" stroke-width="1.7" fill="none"/>
<circle cx="1220.57" cy="859.86" r="3.6" stroke="#000" stroke-width="1.7" fill="none"/>
<circle cx="1306.73" cy="868.45" r="3.6" stroke="#000" stroke-width="1.7" fill="none"/>
<circle cx="1298.59" cy="865.27" r="3.6" stroke="#000" stroke-width="1.7" fill="none"/>
<circle cx="1301.58" cy="857.78" r="3.6" stroke="#000" stroke-width="1.7" fill="none"/>
<circle cx="1305.73" cy="868.86" r="3.6" stroke="#000" stroke-width="1.7" fill="none"/>
<circle cx="1305.27" cy="868.9" r="3.6" stroke="#000" stroke-width="1.7" fill="none"/>
<circle cx="1296.3" cy="862.21" r="3.6" stroke="#000" stroke-width="1.7" fill="none"/>
<circle cx="1290.93" cy="867.41" r="3.6" stroke="#000" stroke-width="1.7" fill="none"/>
<circle cx="1290.16" cy="862.91" r="3.6" stroke="#000" stroke-width="1.7" fill="none"/>
<circle cx="1292.88" cy="860.78" r="3.6" stroke="#000" stroke-width="1.7" fill="none"/>
<circle cx="1295.32" cy="857.59" r="3.6" stroke="#000" stroke-width="1.7" fill="none"/>
<circle cx="1289" cy="865.26" r="3.6" stroke="#000" stroke-width="1.7" fill="none"/>
<circle cx="1290.89" cy="864.79" r="3.6" stroke="#000" stroke-width="1.7" fill="none"/>
<circle cx="1289.47" cy="870.05" r="3.6" stroke="#000" stroke-width="1.7" fill="none"/>
<circle cx="1300.42" cy="858.59" r="3.6" stroke="#000" stroke-width="1.7" fill="none"/>
<circle cx="1293.69" cy="862.53" r="3.6" stroke="#000" stroke-width="1.7" fill="none"/>
<circle cx="1295.77" cy="858.38" r="3.6" stroke="#000" stroke-width="1.7" fill="none"/>
<circle cx="1304.79" cy="870.92" r="3.6" stroke="#000" stroke-width="1.7" fill="none"/>
<circle cx="1297.67" cy="863.28" r="3.6" stroke="#000" stroke-width="1.7" fill="none"/>
<circle cx="1290.6" cy="862.61" r="3.6" stroke="#000" stroke-width="1.7" fill="none"/>
<circle cx="1295.37" cy="860.57" r="3.6" stroke="#000" stroke-width="1.7" fill="none"/>
<circle cx="1304.42" cy="861.41" r="3.6" stroke="#000" stroke-width="1.7" fill="none"/>
<circle cx="1289.43" cy="870.63" r="3.6" stroke="#000" stroke-width="1.7" fill="none"/>
<circle cx="1298.83" cy="858.22" r="3.6" stroke="#000" stroke-width="1.7" fill="none"/>
<circle cx="1299.1" cy="856.47" r="3.6" stroke="#000" stroke-width="1.7" fill="none"/>
<circle cx="1298.82" cy="870.68" r="3.6" stroke="#000" stroke-width="1.7" fill="none"/>
<circle cx="1305.06" cy="867.77" r="3.6" stroke="#000" stroke-width="1.7" fill="none"/>
<circle cx="1293.86" cy="862.69" r="3.6" stroke="#000" stroke-width="1.7" fill="none"/>
<circle cx="1292.11" cy="868.41" r="3.6" stroke="#000" stroke-width="1.7" fill="none"/>
<circle cx="1298.91" cy="867.69" r="3.6" stroke="#000" stroke-width="1.7" fill="none"/>
<circle cx="1295.13" cy="860.09" r="3.6" stroke="#000" stroke-width="1.7" fill="none"/>
<circle cx="1304.09" cy="870.82" r="3.6" stroke="#000" stroke-width="1.7" fill="none"/>
<circle cx="1304.86" cy="868.89" r="3.6" stroke="#000" stroke-width="1.7" fill="none"/>
<circle cx="1304.22" cy="867.97" r="3.6" stroke="#000" stroke-width="1.7" fill="none"/>
<circle cx="1293.22" cy="864.95" r="3.6" stroke="#000" stroke-width="1.7" fill="none"/>
<circle cx="1295.61" cy="857.1" r="3.6" stroke="#000" stroke-width="1.7" fill="none"/>
<circle cx="1289.52" cy="865.49" r="3.6" stroke="#000" stroke-width="1.7" fill="none"/>
<circle cx="1293.82" cy="866.98" r="3.6" stroke="#000" stroke-width="1.7" fill="none"/>
<circle cx="1306.79" cy="866.51" r="3.6" stroke="#000" stroke-width="1.7" fill="none"/>
<circle cx="1306.43" cy="870.9" r="3.6" stroke="#000" stroke-width="1.7" fill="none"/>
<circle cx="1306.76" cy="865.81" r="3.6" stroke="#000" stroke-width="1.7" fill="none"/>
<circle cx="1293.1" cy="861.4" r="3.6" stroke="#000" stroke-width="1.7" fill="none"/>
<circle cx="1292.66" cy="861.48" r="3.6" stroke="#000" stroke-width="1.7" fill="none"/>
<circle cx="1300.61" cy="869.56" r="3.6" stroke="#000" stroke-width="1.7" fill="none"/>
<circle cx="1304.63" cy="865.18" r="3.6" stroke="#000" stroke-width="1.7" fill="none"/>
<circle cx="1301.15" cy="868.15" r="3.6" stroke="#000" stroke-width="1.7" fill="none"/>
<circle cx="1290.58" cy="867.84" r="3.6" stroke="#000" stroke-width="1.7" fill="none"/>
<circle cx="1305.92" cy="868.94" r="3.6" stroke="#000" stroke-width="1.7" fill="none"/>
<circle cx="1302.95" cy="864.25" r="3.6" stroke="#000" stroke-width="1.7" fill="none"/>
<circle cx="1292.32" cy="868.56" r="3.6" stroke="#000" stroke-width="1.7" fill="none"/>
<circle cx="1295.18" cy="868.2" r="3.6" stroke="#000" stroke-width="1.7" fill="none"/>
<circle cx="1307.07" cy="866.37" r="3.6" stroke="#000" stroke-width="1.7" fill="none"/>
<circle cx="1296.47" cy="870.22" r="3.6" stroke="#000" stroke-width="1.7" fill="none"/>
<circle cx="1302.48" cy="859.93" r="3.6" stroke="#000" stroke-width="1.7" fill="none"/>
<circle cx="1291.36" cy="862.16" r="3.6" stroke="#000" stroke-width="1.7" fill="none"/>
<circle cx="1305.83" cy="869.14" r="3.6" stroke="#000" stroke-width="1.7" fill="none"/>
<circle cx="1242.94" cy="853.49" r="3.6" stroke="#000" stroke-width="1.7" fill="none"/>
<circle cx="1256.28" cy="852.62" r="3.6" stroke="#000" stroke-width="1.7" fill="none"/>
<circle cx="1246.21" cy="847.42" r="3.6" stroke="#000" stroke-width="1.7" fill="none"/>
<circle cx="1242.7" cy="842.19" r="3.6" stroke="#000" stroke-width="1.7" fill="none"/>
<circle cx="1256.13" cy="852.41" r="3.6" stroke="#000" stroke-width="1.7" fill="none"/>
<circle cx="1249.03" cy="854.67" r="3.6" stroke="#000" stroke-width="1.7" fill="none"/>
<circle cx="1247.54" cy="853.46" r="3.6" stroke="#000" stroke-width="1.7" fill="none"/>
<circle cx="1329.02" cy="851.5" r="3.6" stroke="#000" stroke-width="1.7" fill="none"/>
<circle cx="1319.83" cy="851.33" r="3.6" stroke="#000" stroke-width="1.7" fill="none"/>
<circle cx="1319.65" cy="857.54" r="3.6" stroke="#000" stroke-width="1.7" fill="none"/>
<circle cx="1319.95" cy="853.83" r="3.6" stroke="#000" stroke-width="1.7" fill="none"/>
<circle cx="1317.9" cy="864.49" r="3.6" stroke="#000" stroke-width="1.7" fill="none"/>
<circle cx="1321.46" cy="853.61" r="3.6" stroke="#000" stroke-width="1.7" fill="none"/>
<circle cx="1325.13" cy="863.74" r="3.6" stroke="#000" stroke-width="1.7" fill="none"/>
<circle cx="1322.53" cy="864.05" r="3.6" stroke="#000" stroke-width="1.7" fill="none"/>
<circle cx="1323.83" cy="854.76" r="3.6" stroke="#000" stroke-width="1.7" fill="none"/>
<circle cx="1324.18" cy="842.48" r="3.6" stroke="#000" stroke-width="1.7" fill="none"/>
<line x1="923.5" y1="664.2" x2="923.5" y2="607.5" stroke="#000" stroke-width="2" stroke-linecap="butt"/>
<line x1="916.5" y1="607.5" x2="930.5" y2="607.5" stroke="#000" stroke-width="2" stroke-linecap="butt"/>
<line x1="948.6" y1="676.4" x2="948.6" y2="634" stroke="#000" stroke-width="2" stroke-linecap="butt"/>
<line x1="941.6" y1="634" x2="955.6" y2="634" stroke="#000" stroke-width="2" stroke-linecap="butt"/>
<line x1="998.4" y1="745.6" x2="998.4" y2="708.2" stroke="#000" stroke-width="2" stroke-linecap="butt"/>
<line x1="991.4" y1="708.2" x2="1005.4" y2="708.2" stroke="#000" stroke-width="2" stroke-linecap="butt"/>
<line x1="1023.3" y1="724" x2="1023.3" y2="681.8" stroke="#000" stroke-width="2" stroke-linecap="butt"/>
<line x1="1016.3" y1="681.8" x2="1030.3" y2="681.8" stroke="#000" stroke-width="2" stroke-linecap="butt"/>
<line x1="1073.1" y1="776" x2="1073.1" y2="739" stroke="#000" stroke-width="2" stroke-linecap="butt"/>
<line x1="1066.1" y1="739" x2="1080.1" y2="739" stroke="#000" stroke-width="2" stroke-linecap="butt"/>
<line x1="1098" y1="741.3" x2="1098" y2="695.6" stroke="#000" stroke-width="2" stroke-linecap="butt"/>
<line x1="1091" y1="695.6" x2="1105" y2="695.6" stroke="#000" stroke-width="2" stroke-linecap="butt"/>
<line x1="1148.2" y1="817" x2="1148.2" y2="790" stroke="#000" stroke-width="2" stroke-linecap="butt"/>
<line x1="1141.2" y1="790" x2="1155.2" y2="790" stroke="#000" stroke-width="2" stroke-linecap="butt"/>
<line x1="1173.8" y1="781.1" x2="1173.8" y2="773" stroke="#000" stroke-width="2" stroke-linecap="butt"/>
<line x1="1166.8" y1="773" x2="1180.8" y2="773" stroke="#000" stroke-width="2" stroke-linecap="butt"/>
<line x1="898.2" y1="555" x2="898.2" y2="873.1" stroke="#000" stroke-width="4" stroke-linecap="butt"/>
<line x1="882.3" y1="557" x2="898.2" y2="557" stroke="#000" stroke-width="4" stroke-linecap="butt"/>
<text x="871.8" y="566.8" font-size="29.5" text-anchor="end">10</text>
<line x1="882.3" y1="714.1" x2="898.2" y2="714.1" stroke="#000" stroke-width="4" stroke-linecap="butt"/>
<text x="871.8" y="723.9" font-size="29.5" text-anchor="end">5</text>
<line x1="882.3" y1="871.1" x2="898.2" y2="871.1" stroke="#000" stroke-width="4" stroke-linecap="butt"/>
<text x="871.8" y="880.9" font-size="29.5" text-anchor="end">0</text>
<line x1="883.4" y1="871.1" x2="1353.5" y2="871.1" stroke="#000" stroke-width="4" stroke-linecap="butt"/>
<text x="935.6" y="909.2" font-size="29" text-anchor="middle">DMSO</text>
<text x="1010.3" y="909.2" font-size="29" text-anchor="middle">15</text>
<text x="1086" y="909.2" font-size="29" text-anchor="middle">30</text>
<text x="1160.8" y="909.2" font-size="29" text-anchor="middle">50</text>
<text x="1236.6" y="909.2" font-size="29" text-anchor="middle">100</text>
<text x="1311.2" y="909.2" font-size="29" text-anchor="middle">200</text>
<line x1="999.5" y1="927.8" x2="1323.4" y2="927.8" stroke="#000" stroke-width="2.2" stroke-linecap="butt"/>
<text x="1160.7" y="962.3" font-size="29" text-anchor="middle">µM MG132</text>
<path d="M911.6,567.1 V560.6 H963.5 V567.1" stroke="#000" stroke-width="1.6" fill="none" stroke-linejoin="miter"/>
<path d="M936.7,560.6 V551.1 H1010.3 V615.6" stroke="#000" stroke-width="1.6" fill="none" stroke-linejoin="miter"/>
<path d="M984.3,622.1 V615.6 H1036.3 V622.1" stroke="#000" stroke-width="1.6" fill="none" stroke-linejoin="miter"/>
<path d="M964.45,536.7 L964.45,532 M964.45,536.7 L968.92,535.25 M964.45,536.7 L967.21,540.5 M964.45,536.7 L961.69,540.5 M964.45,536.7 L959.98,535.25" stroke="#000" stroke-width="2" stroke-linecap="round" fill="none"/>
<path d="M978.35,536.7 L978.35,532 M978.35,536.7 L982.82,535.25 M978.35,536.7 L981.11,540.5 M978.35,536.7 L975.59,540.5 M978.35,536.7 L973.88,535.25" stroke="#000" stroke-width="2" stroke-linecap="round" fill="none"/>
<path d="M1081.8,646.4 L1081.8,641.7 M1081.8,646.4 L1086.27,644.95 M1081.8,646.4 L1084.56,650.2 M1081.8,646.4 L1079.04,650.2 M1081.8,646.4 L1077.33,644.95" stroke="#000" stroke-width="2" stroke-linecap="round" fill="none"/>
<path d="M1153.85,696.2 L1153.85,691.5 M1153.85,696.2 L1158.32,694.75 M1153.85,696.2 L1156.61,700 M1153.85,696.2 L1151.09,700 M1153.85,696.2 L1149.38,694.75" stroke="#000" stroke-width="2" stroke-linecap="round" fill="none"/>
<path d="M1167.75,696.2 L1167.75,691.5 M1167.75,696.2 L1172.22,694.75 M1167.75,696.2 L1170.51,700 M1167.75,696.2 L1164.99,700 M1167.75,696.2 L1163.28,694.75" stroke="#000" stroke-width="2" stroke-linecap="round" fill="none"/>
<path d="M1228.45,765.5 L1228.45,760.8 M1228.45,765.5 L1232.92,764.05 M1228.45,765.5 L1231.21,769.3 M1228.45,765.5 L1225.69,769.3 M1228.45,765.5 L1223.98,764.05" stroke="#000" stroke-width="2" stroke-linecap="round" fill="none"/>
<path d="M1242.35,765.5 L1242.35,760.8 M1242.35,765.5 L1246.82,764.05 M1242.35,765.5 L1245.11,769.3 M1242.35,765.5 L1239.59,769.3 M1242.35,765.5 L1237.88,764.05" stroke="#000" stroke-width="2" stroke-linecap="round" fill="none"/>
<path d="M1303.15,795.7 L1303.15,791 M1303.15,795.7 L1307.62,794.25 M1303.15,795.7 L1305.91,799.5 M1303.15,795.7 L1300.39,799.5 M1303.15,795.7 L1298.68,794.25" stroke="#000" stroke-width="2" stroke-linecap="round" fill="none"/>
<path d="M1317.05,795.7 L1317.05,791 M1317.05,795.7 L1321.52,794.25 M1317.05,795.7 L1319.81,799.5 M1317.05,795.7 L1314.29,799.5 M1317.05,795.7 L1312.58,794.25" stroke="#000" stroke-width="2" stroke-linecap="round" fill="none"/>
<rect x="1232.6" y="569.2" width="16.8" height="16" fill="#404040" stroke="#222" stroke-width="1.2"/>
<rect x="1232.6" y="602.8" width="16.8" height="16.2" fill="#d8d8d8" stroke="#444" stroke-width="1.2"/>
<text x="1258.3" y="585.6" font-size="27" text-anchor="start">WT</text>
<text x="1259" y="619.3" font-size="27" text-anchor="start" font-style="italic">rpn8a</text>
<text transform="translate(813.6,713.2) rotate(-90)" font-size="29.4" text-anchor="middle">Hypocotyl length [mm]</text>
<text x="-1" y="1052" font-size="42" text-anchor="start" font-weight="bold">d</text>
<rect x="107.4" y="1310.5" width="23.4" height="84.2" fill="#646464" stroke="#000" stroke-width="3.6"/>
<rect x="134.4" y="1180.1" width="23.65" height="214.6" fill="#d3d3d3" stroke="#000" stroke-width="3.6"/>
<rect x="161.65" y="1205.5" width="23.05" height="189.2" fill="#ffffff" stroke="#000" stroke-width="3.6"/>
<rect x="216.2" y="1310.5" width="23" height="84.2" fill="#646464" stroke="#000" stroke-width="3.6"/>
<rect x="242.8" y="1266.1" width="23.9" height="128.6" fill="#d3d3d3" stroke="#000" stroke-width="3.6"/>
<rect x="270.3" y="1195" width="23.4" height="199.7" fill="#ffffff" stroke="#000" stroke-width="3.6"/>
<rect x="325.5" y="1310.5" width="22.5" height="84.2" fill="#646464" stroke="#000" stroke-width="3.6"/>
<rect x="351.6" y="1265.4" width="23.65" height="129.3" fill="#d3d3d3" stroke="#000" stroke-width="3.6"/>
<rect x="378.85" y="1230.7" width="23.35" height="164" fill="#ffffff" stroke="#000" stroke-width="3.6"/>
<rect x="433.6" y="1310.5" width="22.95" height="84.2" fill="#646464" stroke="#000" stroke-width="3.6"/>
<rect x="460.15" y="1237.2" width="23.4" height="157.5" fill="#d3d3d3" stroke="#000" stroke-width="3.6"/>
<rect x="487.15" y="1209.2" width="23.45" height="185.5" fill="#ffffff" stroke="#000" stroke-width="3.6"/>
<rect x="542.8" y="1310.5" width="22.55" height="84.2" fill="#646464" stroke="#000" stroke-width="3.6"/>
<rect x="568.95" y="1221.1" width="22.8" height="173.6" fill="#d3d3d3" stroke="#000" stroke-width="3.6"/>
<rect x="595.35" y="1164.8" width="23.75" height="229.9" fill="#ffffff" stroke="#000" stroke-width="3.6"/>
<rect x="651.4" y="1310.5" width="22.35" height="84.2" fill="#646464" stroke="#000" stroke-width="3.6"/>
<rect x="677.35" y="1269.5" width="24" height="125.2" fill="#d3d3d3" stroke="#000" stroke-width="3.6"/>
<rect x="704.95" y="1245.4" width="22.65" height="149.3" fill="#ffffff" stroke="#000" stroke-width="3.6"/>
<rect x="759.9" y="1310.5" width="22.35" height="84.2" fill="#646464" stroke="#000" stroke-width="3.6"/>
<rect x="785.85" y="1206.7" width="24.5" height="188" fill="#d3d3d3" stroke="#000" stroke-width="3.6"/>
<rect x="813.95" y="1175" width="22.45" height="219.7" fill="#ffffff" stroke="#000" stroke-width="3.6"/>
<line x1="145.9" y1="1179.3" x2="145.9" y2="1145.7" stroke="#000" stroke-width="1.7" stroke-linecap="butt"/>
<line x1="138.9" y1="1145.7" x2="152.9" y2="1145.7" stroke="#000" stroke-width="1.7" stroke-linecap="butt"/>
<line x1="173.3" y1="1204.7" x2="173.3" y2="1178.8" stroke="#000" stroke-width="1.7" stroke-linecap="butt"/>
<line x1="166.3" y1="1178.8" x2="180.3" y2="1178.8" stroke="#000" stroke-width="1.7" stroke-linecap="butt"/>
<line x1="254.6" y1="1265.3" x2="254.6" y2="1253" stroke="#000" stroke-width="1.7" stroke-linecap="butt"/>
<line x1="247.6" y1="1253" x2="261.6" y2="1253" stroke="#000" stroke-width="1.7" stroke-linecap="butt"/>
<line x1="281.9" y1="1194.2" x2="281.9" y2="1150.8" stroke="#000" stroke-width="1.7" stroke-linecap="butt"/>
<line x1="274.9" y1="1150.8" x2="288.9" y2="1150.8" stroke="#000" stroke-width="1.7" stroke-linecap="butt"/>
<line x1="363.4" y1="1264.6" x2="363.4" y2="1242.8" stroke="#000" stroke-width="1.7" stroke-linecap="butt"/>
<line x1="356.4" y1="1242.8" x2="370.4" y2="1242.8" stroke="#000" stroke-width="1.7" stroke-linecap="butt"/>
<line x1="390.8" y1="1229.9" x2="390.8" y2="1224.2" stroke="#000" stroke-width="1.7" stroke-linecap="butt"/>
<line x1="383.8" y1="1224.2" x2="397.8" y2="1224.2" stroke="#000" stroke-width="1.7" stroke-linecap="butt"/>
<line x1="472.1" y1="1236.4" x2="472.1" y2="1226.4" stroke="#000" stroke-width="1.7" stroke-linecap="butt"/>
<line x1="465.1" y1="1226.4" x2="479.1" y2="1226.4" stroke="#000" stroke-width="1.7" stroke-linecap="butt"/>
<line x1="499.2" y1="1208.4" x2="499.2" y2="1169.1" stroke="#000" stroke-width="1.7" stroke-linecap="butt"/>
<line x1="492.2" y1="1169.1" x2="506.2" y2="1169.1" stroke="#000" stroke-width="1.7" stroke-linecap="butt"/>
<line x1="580.4" y1="1220.3" x2="580.4" y2="1204.6" stroke="#000" stroke-width="1.7" stroke-linecap="butt"/>
<line x1="573.4" y1="1204.6" x2="587.4" y2="1204.6" stroke="#000" stroke-width="1.7" stroke-linecap="butt"/>
<line x1="608" y1="1164" x2="608" y2="1105.1" stroke="#000" stroke-width="1.7" stroke-linecap="butt"/>
<line x1="601" y1="1105.1" x2="615" y2="1105.1" stroke="#000" stroke-width="1.7" stroke-linecap="butt"/>
<line x1="689.5" y1="1268.7" x2="689.5" y2="1258.9" stroke="#000" stroke-width="1.7" stroke-linecap="butt"/>
<line x1="682.5" y1="1258.9" x2="696.5" y2="1258.9" stroke="#000" stroke-width="1.7" stroke-linecap="butt"/>
<line x1="716.5" y1="1244.6" x2="716.5" y2="1219.3" stroke="#000" stroke-width="1.7" stroke-linecap="butt"/>
<line x1="709.5" y1="1219.3" x2="723.5" y2="1219.3" stroke="#000" stroke-width="1.7" stroke-linecap="butt"/>
<line x1="798" y1="1205.9" x2="798" y2="1157.7" stroke="#000" stroke-width="1.7" stroke-linecap="butt"/>
<line x1="791" y1="1157.7" x2="805" y2="1157.7" stroke="#000" stroke-width="1.7" stroke-linecap="butt"/>
<line x1="825.5" y1="1174.2" x2="825.5" y2="1125.1" stroke="#000" stroke-width="1.7" stroke-linecap="butt"/>
<line x1="818.5" y1="1125.1" x2="832.5" y2="1125.1" stroke="#000" stroke-width="1.7" stroke-linecap="butt"/>
<circle cx="139.1" cy="1157.1" r="3.1" stroke="#000" stroke-width="1.6" fill="none"/>
<circle cx="153" cy="1162.2" r="3.1" stroke="#000" stroke-width="1.6" fill="none"/>
<circle cx="146.2" cy="1214.7" r="3.1" stroke="#000" stroke-width="1.6" fill="none"/>
<circle cx="173.3" cy="1177.9" r="3.1" stroke="#000" stroke-width="1.6" fill="none"/>
<circle cx="173.3" cy="1205.9" r="3.1" stroke="#000" stroke-width="1.6" fill="none"/>
<circle cx="173.3" cy="1226.7" r="3.1" stroke="#000" stroke-width="1.6" fill="none"/>
<circle cx="254.6" cy="1251.1" r="3.1" stroke="#000" stroke-width="1.6" fill="none"/>
<circle cx="247.9" cy="1273.1" r="3.1" stroke="#000" stroke-width="1.6" fill="none"/>
<circle cx="261.4" cy="1266.8" r="3.1" stroke="#000" stroke-width="1.6" fill="none"/>
<circle cx="281.9" cy="1156.7" r="3.1" stroke="#000" stroke-width="1.6" fill="none"/>
<circle cx="281.9" cy="1183" r="3.1" stroke="#000" stroke-width="1.6" fill="none"/>
<circle cx="281.9" cy="1237.7" r="3.1" stroke="#000" stroke-width="1.6" fill="none"/>
<circle cx="363.4" cy="1248.4" r="3.1" stroke="#000" stroke-width="1.6" fill="none"/>
<circle cx="363.4" cy="1255.2" r="3.1" stroke="#000" stroke-width="1.6" fill="none"/>
<circle cx="363.4" cy="1286" r="3.1" stroke="#000" stroke-width="1.6" fill="none"/>
<circle cx="390.8" cy="1224.2" r="3.1" stroke="#000" stroke-width="1.6" fill="none"/>
<circle cx="380.3" cy="1229.8" r="3.1" stroke="#000" stroke-width="1.6" fill="none"/>
<circle cx="401" cy="1229.8" r="3.1" stroke="#000" stroke-width="1.6" fill="none"/>
<circle cx="472.1" cy="1226.4" r="3.1" stroke="#000" stroke-width="1.6" fill="none"/>
<circle cx="472.1" cy="1232.3" r="3.1" stroke="#000" stroke-width="1.6" fill="none"/>
<circle cx="472.1" cy="1241.6" r="3.1" stroke="#000" stroke-width="1.6" fill="none"/>
<circle cx="499.2" cy="1167.4" r="3.1" stroke="#000" stroke-width="1.6" fill="none"/>
<circle cx="499.2" cy="1210.3" r="3.1" stroke="#000" stroke-width="1.6" fill="none"/>
<circle cx="499.2" cy="1241.6" r="3.1" stroke="#000" stroke-width="1.6" fill="none"/>
<circle cx="574.2" cy="1209.9" r="3.1" stroke="#000" stroke-width="1.6" fill="none"/>
<circle cx="587.4" cy="1209.9" r="3.1" stroke="#000" stroke-width="1.6" fill="none"/>
<circle cx="580.7" cy="1234" r="3.1" stroke="#000" stroke-width="1.6" fill="none"/>
<circle cx="608" cy="1101.3" r="3.1" stroke="#000" stroke-width="1.6" fill="none"/>
<circle cx="608" cy="1169.7" r="3.1" stroke="#000" stroke-width="1.6" fill="none"/>
<circle cx="608" cy="1214.9" r="3.1" stroke="#000" stroke-width="1.6" fill="none"/>
<circle cx="689.2" cy="1256.8" r="3.1" stroke="#000" stroke-width="1.6" fill="none"/>
<circle cx="682.5" cy="1273" r="3.1" stroke="#000" stroke-width="1.6" fill="none"/>
<circle cx="696.5" cy="1269.4" r="3.1" stroke="#000" stroke-width="1.6" fill="none"/>
<circle cx="716.5" cy="1217.2" r="3.1" stroke="#000" stroke-width="1.6" fill="none"/>
<circle cx="716.5" cy="1244.5" r="3.1" stroke="#000" stroke-width="1.6" fill="none"/>
<circle cx="716.5" cy="1263.6" r="3.1" stroke="#000" stroke-width="1.6" fill="none"/>
<circle cx="797.7" cy="1150.6" r="3.1" stroke="#000" stroke-width="1.6" fill="none"/>
<circle cx="797.7" cy="1222.5" r="3.1" stroke="#000" stroke-width="1.6" fill="none"/>
<circle cx="797.7" cy="1237.7" r="3.1" stroke="#000" stroke-width="1.6" fill="none"/>
<circle cx="825" cy="1121.9" r="3.1" stroke="#000" stroke-width="1.6" fill="none"/>
<circle cx="825" cy="1180.5" r="3.1" stroke="#000" stroke-width="1.6" fill="none"/>
<circle cx="825" cy="1214.9" r="3.1" stroke="#000" stroke-width="1.6" fill="none"/>
<path d="M138.55,1124.3 L138.55,1119.6 M138.55,1124.3 L143.02,1122.85 M138.55,1124.3 L141.31,1128.1 M138.55,1124.3 L135.79,1128.1 M138.55,1124.3 L134.08,1122.85" stroke="#000" stroke-width="2" stroke-linecap="round" fill="none"/>
<path d="M152.45,1124.3 L152.45,1119.6 M152.45,1124.3 L156.92,1122.85 M152.45,1124.3 L155.21,1128.1 M152.45,1124.3 L149.69,1128.1 M152.45,1124.3 L147.98,1122.85" stroke="#000" stroke-width="2" stroke-linecap="round" fill="none"/>
<path d="M166.45,1158.2 L166.45,1153.5 M166.45,1158.2 L170.92,1156.75 M166.45,1158.2 L169.21,1162 M166.45,1158.2 L163.69,1162 M166.45,1158.2 L161.98,1156.75" stroke="#000" stroke-width="2" stroke-linecap="round" fill="none"/>
<path d="M180.35,1158.2 L180.35,1153.5 M180.35,1158.2 L184.82,1156.75 M180.35,1158.2 L183.11,1162 M180.35,1158.2 L177.59,1162 M180.35,1158.2 L175.88,1156.75" stroke="#000" stroke-width="2" stroke-linecap="round" fill="none"/>
<path d="M252.6,1229.3 L252.6,1224.6 M252.6,1229.3 L257.07,1227.85 M252.6,1229.3 L255.36,1233.1 M252.6,1229.3 L249.84,1233.1 M252.6,1229.3 L248.13,1227.85" stroke="#000" stroke-width="2" stroke-linecap="round" fill="none"/>
<path d="M273.15,1130.3 L273.15,1125.6 M273.15,1130.3 L277.62,1128.85 M273.15,1130.3 L275.91,1134.1 M273.15,1130.3 L270.39,1134.1 M273.15,1130.3 L268.68,1128.85" stroke="#000" stroke-width="2" stroke-linecap="round" fill="none"/>
<path d="M287.05,1130.3 L287.05,1125.6 M287.05,1130.3 L291.52,1128.85 M287.05,1130.3 L289.81,1134.1 M287.05,1130.3 L284.29,1134.1 M287.05,1130.3 L282.58,1128.85" stroke="#000" stroke-width="2" stroke-linecap="round" fill="none"/>
<path d="M360.8,1216.7 L360.8,1212 M360.8,1216.7 L365.27,1215.25 M360.8,1216.7 L363.56,1220.5 M360.8,1216.7 L358.04,1220.5 M360.8,1216.7 L356.33,1215.25" stroke="#000" stroke-width="2" stroke-linecap="round" fill="none"/>
<path d="M383.05,1197.4 L383.05,1192.7 M383.05,1197.4 L387.52,1195.95 M383.05,1197.4 L385.81,1201.2 M383.05,1197.4 L380.29,1201.2 M383.05,1197.4 L378.58,1195.95" stroke="#000" stroke-width="2" stroke-linecap="round" fill="none"/>
<path d="M396.95,1197.4 L396.95,1192.7 M396.95,1197.4 L401.42,1195.95 M396.95,1197.4 L399.71,1201.2 M396.95,1197.4 L394.19,1201.2 M396.95,1197.4 L392.48,1195.95" stroke="#000" stroke-width="2" stroke-linecap="round" fill="none"/>
<path d="M463.95,1194.7 L463.95,1190 M463.95,1194.7 L468.42,1193.25 M463.95,1194.7 L466.71,1198.5 M463.95,1194.7 L461.19,1198.5 M463.95,1194.7 L459.48,1193.25" stroke="#000" stroke-width="2" stroke-linecap="round" fill="none"/>
<path d="M477.85,1194.7 L477.85,1190 M477.85,1194.7 L482.32,1193.25 M477.85,1194.7 L480.61,1198.5 M477.85,1194.7 L475.09,1198.5 M477.85,1194.7 L473.38,1193.25" stroke="#000" stroke-width="2" stroke-linecap="round" fill="none"/>
<path d="M490.25,1147.4 L490.25,1142.7 M490.25,1147.4 L494.72,1145.95 M490.25,1147.4 L493.01,1151.2 M490.25,1147.4 L487.49,1151.2 M490.25,1147.4 L485.78,1145.95" stroke="#000" stroke-width="2" stroke-linecap="round" fill="none"/>
<path d="M504.15,1147.4 L504.15,1142.7 M504.15,1147.4 L508.62,1145.95 M504.15,1147.4 L506.91,1151.2 M504.15,1147.4 L501.39,1151.2 M504.15,1147.4 L499.68,1145.95" stroke="#000" stroke-width="2" stroke-linecap="round" fill="none"/>
<path d="M570.85,1178.7 L570.85,1174 M570.85,1178.7 L575.32,1177.25 M570.85,1178.7 L573.61,1182.5 M570.85,1178.7 L568.09,1182.5 M570.85,1178.7 L566.38,1177.25" stroke="#000" stroke-width="2" stroke-linecap="round" fill="none"/>
<path d="M584.75,1178.7 L584.75,1174 M584.75,1178.7 L589.22,1177.25 M584.75,1178.7 L587.51,1182.5 M584.75,1178.7 L581.99,1182.5 M584.75,1178.7 L580.28,1177.25" stroke="#000" stroke-width="2" stroke-linecap="round" fill="none"/>
<path d="M605.5,1076.7 L605.5,1072 M605.5,1076.7 L609.97,1075.25 M605.5,1076.7 L608.26,1080.5 M605.5,1076.7 L602.74,1080.5 M605.5,1076.7 L601.03,1075.25" stroke="#000" stroke-width="2" stroke-linecap="round" fill="none"/>
<path d="M680.05,1234.7 L680.05,1230 M680.05,1234.7 L684.52,1233.25 M680.05,1234.7 L682.81,1238.5 M680.05,1234.7 L677.29,1238.5 M680.05,1234.7 L675.58,1233.25" stroke="#000" stroke-width="2" stroke-linecap="round" fill="none"/>
<path d="M693.95,1234.7 L693.95,1230 M693.95,1234.7 L698.42,1233.25 M693.95,1234.7 L696.71,1238.5 M693.95,1234.7 L691.19,1238.5 M693.95,1234.7 L689.48,1233.25" stroke="#000" stroke-width="2" stroke-linecap="round" fill="none"/>
<path d="M707.55,1192.7 L707.55,1188 M707.55,1192.7 L712.02,1191.25 M707.55,1192.7 L710.31,1196.5 M707.55,1192.7 L704.79,1196.5 M707.55,1192.7 L703.08,1191.25" stroke="#000" stroke-width="2" stroke-linecap="round" fill="none"/>
<path d="M721.45,1192.7 L721.45,1188 M721.45,1192.7 L725.92,1191.25 M721.45,1192.7 L724.21,1196.5 M721.45,1192.7 L718.69,1196.5 M721.45,1192.7 L716.98,1191.25" stroke="#000" stroke-width="2" stroke-linecap="round" fill="none"/>
<path d="M789.35,1128.4 L789.35,1123.7 M789.35,1128.4 L793.82,1126.95 M789.35,1128.4 L792.11,1132.2 M789.35,1128.4 L786.59,1132.2 M789.35,1128.4 L784.88,1126.95" stroke="#000" stroke-width="2" stroke-linecap="round" fill="none"/>
<path d="M803.25,1128.4 L803.25,1123.7 M803.25,1128.4 L807.72,1126.95 M803.25,1128.4 L806.01,1132.2 M803.25,1128.4 L800.49,1132.2 M803.25,1128.4 L798.78,1126.95" stroke="#000" stroke-width="2" stroke-linecap="round" fill="none"/>
<path d="M815.75,1096.7 L815.75,1092 M815.75,1096.7 L820.22,1095.25 M815.75,1096.7 L818.51,1100.5 M815.75,1096.7 L812.99,1100.5 M815.75,1096.7 L811.28,1095.25" stroke="#000" stroke-width="2" stroke-linecap="round" fill="none"/>
<path d="M829.65,1096.7 L829.65,1092 M829.65,1096.7 L834.12,1095.25 M829.65,1096.7 L832.41,1100.5 M829.65,1096.7 L826.89,1100.5 M829.65,1096.7 L825.18,1095.25" stroke="#000" stroke-width="2" stroke-linecap="round" fill="none"/>
<line x1="91.9" y1="1048.2" x2="91.9" y2="1396.5" stroke="#000" stroke-width="3.7" stroke-linecap="butt"/>
<line x1="77.1" y1="1050" x2="91.9" y2="1050" stroke="#000" stroke-width="3.7" stroke-linecap="butt"/>
<text x="66" y="1060" font-size="29" text-anchor="end">4</text>
<line x1="77.1" y1="1136.6" x2="91.9" y2="1136.6" stroke="#000" stroke-width="3.7" stroke-linecap="butt"/>
<text x="66" y="1146.6" font-size="29" text-anchor="end">3</text>
<line x1="77.1" y1="1222.4" x2="91.9" y2="1222.4" stroke="#000" stroke-width="3.7" stroke-linecap="butt"/>
<text x="66" y="1232.4" font-size="29" text-anchor="end">2</text>
<line x1="77.1" y1="1308.6" x2="91.9" y2="1308.6" stroke="#000" stroke-width="3.7" stroke-linecap="butt"/>
<text x="66" y="1318.6" font-size="29" text-anchor="end">1</text>
<line x1="77.1" y1="1394.3" x2="91.9" y2="1394.3" stroke="#000" stroke-width="3.7" stroke-linecap="butt"/>
<text x="66" y="1404.3" font-size="29" text-anchor="end">0</text>
<line x1="77.1" y1="1394.5" x2="859.1" y2="1394.5" stroke="#000" stroke-width="3.3" stroke-linecap="butt"/>
<rect x="136.6" y="1050.6" width="16.2" height="15.3" fill="#111" stroke="#000" stroke-width="1.2"/>
<text x="165" y="1066.5" font-size="25" text-anchor="start">Control</text>
<rect x="268.6" y="1050.6" width="15.3" height="15.3" fill="#cfcfcf" stroke="#333" stroke-width="1.2"/>
<text x="296" y="1066.5" font-size="25" text-anchor="start" font-style="italic">rpn8a</text>
<rect x="388.2" y="1050.6" width="15.2" height="15.3" fill="#ffffff" stroke="#333" stroke-width="1.2"/>
<text x="415.5" y="1066.5" font-size="25" text-anchor="start" font-style="italic">rpn8a ppi2</text>
<text x="147.4" y="1430.6" font-size="29" text-anchor="middle" font-style="italic">RPN8b</text>
<text x="256.6" y="1430.6" font-size="29" text-anchor="middle" font-style="italic">RPN5a</text>
<text x="365" y="1430.6" font-size="29" text-anchor="middle" font-style="italic">RPN10</text>
<text x="473.2" y="1430.6" font-size="29" text-anchor="middle" font-style="italic">RPT2a</text>
<text x="582.1" y="1430.6" font-size="29" text-anchor="middle" font-style="italic">PAA2</text>
<text x="690.7" y="1430.6" font-size="29" text-anchor="middle" font-style="italic">CDC48a</text>
<text x="798.5" y="1430.6" font-size="29" text-anchor="middle" font-style="italic">NAS6</text>
<line x1="109.3" y1="1449.3" x2="280.4" y2="1449.3" stroke="#000" stroke-width="2.2" stroke-linecap="butt"/>
<line x1="327.8" y1="1449.3" x2="499" y2="1449.3" stroke="#000" stroke-width="2.2" stroke-linecap="butt"/>
<line x1="531.7" y1="1449.3" x2="616.8" y2="1449.3" stroke="#000" stroke-width="2.2" stroke-linecap="butt"/>
<line x1="657" y1="1449.3" x2="827.1" y2="1449.3" stroke="#000" stroke-width="2.2" stroke-linecap="butt"/>
<text x="198" y="1486.2" font-size="29" text-anchor="middle">Lid</text>
<text x="413.4" y="1486.2" font-size="29" text-anchor="middle">Base</text>
<text x="578.9" y="1486.2" font-size="29" text-anchor="middle">20S</text>
<text x="743" y="1486.2" font-size="29" text-anchor="middle">Others</text>
<text transform="translate(24.1,1222) rotate(-90)" font-size="29" text-anchor="middle">Relative expression</text>
<text x="908.5" y="1051.8" font-size="42" text-anchor="start" font-weight="bold">e</text>
<line x1="1047.4" y1="1064.5" x2="1047.4" y2="1354.8" stroke="#000" stroke-width="1.6" stroke-linecap="butt"/>
<line x1="1046.6" y1="1354" x2="1350.2" y2="1354" stroke="#000" stroke-width="1.6" stroke-linecap="butt"/>
<line x1="1039" y1="1065.3" x2="1048.2" y2="1065.3" stroke="#000" stroke-width="1.6" stroke-linecap="butt"/>
<text x="1027.5" y="1074.5" font-size="29.5" text-anchor="end">2</text>
<line x1="1039" y1="1161.6" x2="1048.2" y2="1161.6" stroke="#000" stroke-width="1.6" stroke-linecap="butt"/>
<text x="1027.5" y="1170.8" font-size="29.5" text-anchor="end">1</text>
<line x1="1039" y1="1257.9" x2="1048.2" y2="1257.9" stroke="#000" stroke-width="1.6" stroke-linecap="butt"/>
<text x="1027.5" y="1267.1" font-size="29.5" text-anchor="end">0</text>
<line x1="1039" y1="1354" x2="1048.2" y2="1354" stroke="#000" stroke-width="1.6" stroke-linecap="butt"/>
<text x="1027.5" y="1363.2" font-size="29.5" text-anchor="end">−1</text>
<line x1="1041.5" y1="1112.9" x2="1047.4" y2="1112.9" stroke="#000" stroke-width="1.6" stroke-linecap="butt"/>
<line x1="1041.5" y1="1209.7" x2="1047.4" y2="1209.7" stroke="#000" stroke-width="1.6" stroke-linecap="butt"/>
<line x1="1041.5" y1="1306.1" x2="1047.4" y2="1306.1" stroke="#000" stroke-width="1.6" stroke-linecap="butt"/>
<line x1="1047.4" y1="1354" x2="1047.4" y2="1362.4" stroke="#000" stroke-width="1.6" stroke-linecap="butt"/>
<text x="1043.4" y="1396.5" font-size="29" text-anchor="middle">−1</text>
<line x1="1148.6" y1="1354" x2="1148.6" y2="1362.4" stroke="#000" stroke-width="1.6" stroke-linecap="butt"/>
<text x="1148.6" y="1396.5" font-size="29" text-anchor="middle">0</text>
<line x1="1249" y1="1354" x2="1249" y2="1362.4" stroke="#000" stroke-width="1.6" stroke-linecap="butt"/>
<text x="1249" y="1396.5" font-size="29" text-anchor="middle">1</text>
<line x1="1350.2" y1="1354" x2="1350.2" y2="1362.4" stroke="#000" stroke-width="1.6" stroke-linecap="butt"/>
<text x="1350.2" y="1396.5" font-size="29" text-anchor="middle">2</text>
<line x1="1098" y1="1354" x2="1098" y2="1360" stroke="#000" stroke-width="1.6" stroke-linecap="butt"/>
<line x1="1199.2" y1="1354" x2="1199.2" y2="1360" stroke="#000" stroke-width="1.6" stroke-linecap="butt"/>
<line x1="1299.7" y1="1354" x2="1299.7" y2="1360" stroke="#000" stroke-width="1.6" stroke-linecap="butt"/>
<line x1="1047.4" y1="1354" x2="1350.2" y2="1064.6" stroke="#000" stroke-width="1.25" stroke-linecap="butt"/>
<circle cx="1099" cy="1166.2" r="8.2" stroke="#111" stroke-width="1.1" fill="#5f5f5f"/>
<circle cx="1128.7" cy="1139.2" r="8.2" stroke="#111" stroke-width="1.1" fill="#5f5f5f"/>
<circle cx="1172.2" cy="1148.3" r="8.2" stroke="#111" stroke-width="1.1" fill="#5f5f5f"/>
<circle cx="1224.4" cy="1178" r="8.2" stroke="#111" stroke-width="1.1" fill="#f39148"/>
<circle cx="1298.3" cy="1119.6" r="8.2" stroke="#111" stroke-width="1.1" fill="#f39148"/>
<circle cx="1231.2" cy="1270.7" r="8.2" stroke="#111" stroke-width="1.1" fill="#9cc25a"/>
<circle cx="1213" cy="1315.2" r="8.2" stroke="#111" stroke-width="1.1" fill="#9cc25a"/>
<circle cx="1260.9" cy="1310.8" r="8.2" stroke="#111" stroke-width="1.1" fill="#9cc25a"/>
<text x="1198.5" y="1440" font-size="29.6" text-anchor="middle">Protein regulation</text>
<text x="1198.5" y="1475.5" font-size="30" text-anchor="middle">[log2 (<tspan font-style="italic">rpn8a ppi2/ppi2</tspan>)]</text>
<text transform="translate(934,1210) rotate(-90)" font-size="29" text-anchor="middle">Transcript regulation</text>
<text transform="translate(969.5,1210.6) rotate(-90)" font-size="29" text-anchor="middle">[log2 (<tspan font-style="italic">rpn8a ppi2/ppi2</tspan>)]</text>
</svg>
</body></html>
